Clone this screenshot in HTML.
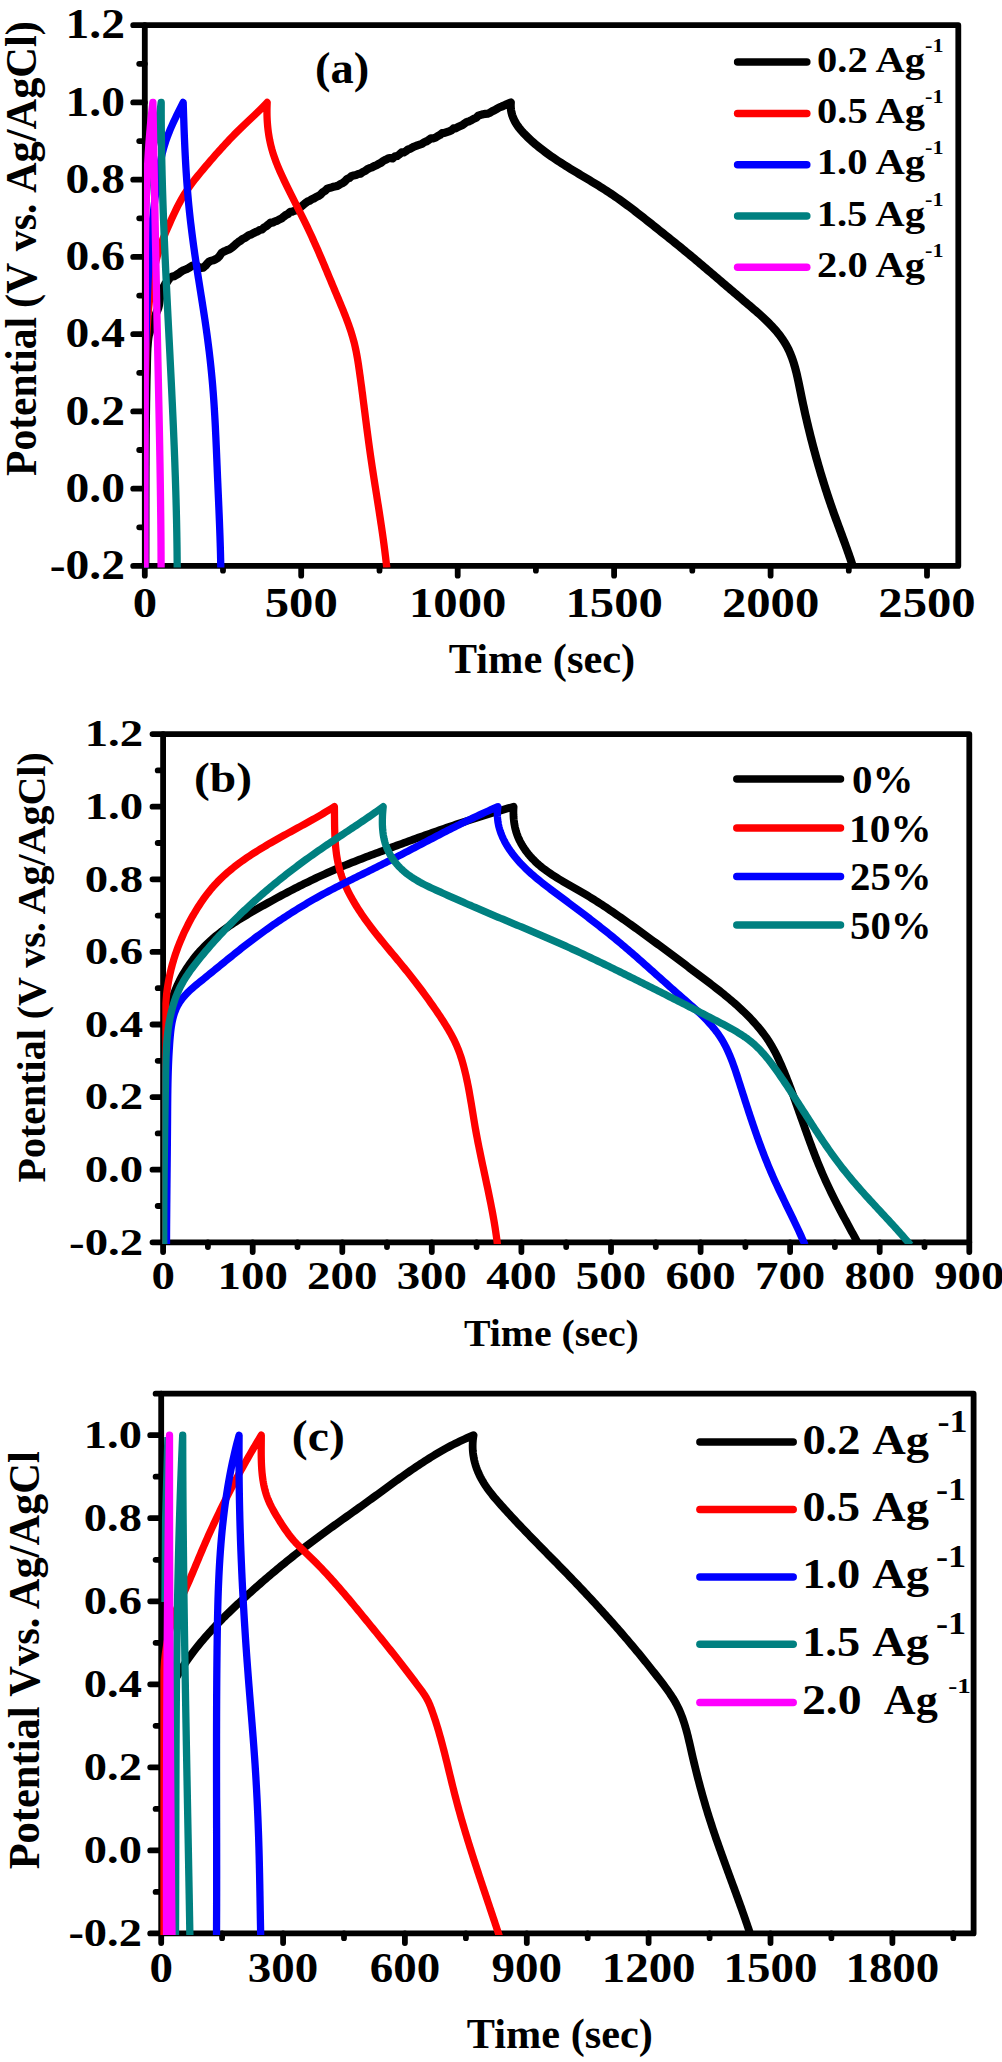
<!DOCTYPE html>
<html lang="en"><head><meta charset="utf-8"><title>Galvanostatic charge-discharge curves</title>
<style>html,body{margin:0;padding:0;background:#fff}svg{display:block}</style></head>
<body>
<svg width="1002" height="2062" viewBox="0 0 1002 2062" font-family="'Liberation Serif', 'Times New Roman', serif" font-weight="bold" fill="#000">
<rect width="1002" height="2062" fill="#fff"/>
<g stroke="#000" stroke-width="5.8" stroke-linecap="round" fill="none">
<rect x="144.8" y="25.2" width="813.5" height="540.7" stroke-linejoin="round"/>
<path d="M144.8,565.9v9.8M301.2,565.9v9.8M457.7,565.9v9.8M614.1,565.9v9.8M770.6,565.9v9.8M927.0,565.9v9.8M223.0,565.9v4.8M379.5,565.9v4.8M535.9,565.9v4.8M692.3,565.9v4.8M848.8,565.9v4.8M144.8,565.9h-11.6M144.8,488.7h-11.6M144.8,411.4h-11.6M144.8,334.2h-11.6M144.8,256.9h-11.6M144.8,179.7h-11.6M144.8,102.4h-11.6M144.8,25.2h-11.6M144.8,527.3h-5.6M144.8,450.0h-5.6M144.8,372.8h-5.6M144.8,295.6h-5.6M144.8,218.3h-5.6M144.8,141.1h-5.6M144.8,63.8h-5.6"/>
</g>
<clipPath id="ca"><rect x="144.0" y="25.2" width="814.3" height="542.3"/></clipPath>
<g clip-path="url(#ca)" fill="none" stroke-width="7.3" stroke-linejoin="round" stroke-linecap="butt">
<path stroke="#000000" stroke-width="8.2" d="M145.30,568.00 L145.31,565.32 L145.31,562.68 L145.32,559.95 L145.33,558.00 L145.33,556.08 L145.34,553.66 L145.34,551.48 L145.35,547.46 L145.35,544.41 L145.35,541.88 L145.36,539.68 L145.36,537.34 L145.37,535.67 L145.37,533.23 L145.37,530.52 L145.37,528.75 L145.38,526.06 L145.38,523.42 L145.38,520.81 L145.39,517.88 L145.39,515.94 L145.39,513.52 L145.40,510.98 L145.40,508.65 L145.40,504.96 L145.41,502.43 L145.41,500.38 L145.41,497.69 L145.42,495.58 L145.42,493.46 L145.43,489.40 L145.44,487.06 L145.44,484.11 L145.45,480.61 L145.46,479.39 L145.47,476.74 L145.47,474.43 L145.48,472.16 L145.49,469.54 L145.50,466.71 L145.52,464.96 L145.53,463.21 L145.54,460.76 L145.56,458.73 L145.57,455.54 L145.59,452.33 L145.60,449.98 L145.62,447.25 L145.64,444.73 L145.66,442.27 L145.68,439.61 L145.70,435.82 L145.72,433.69 L145.75,431.70 L145.77,428.42 L145.80,426.97 L145.83,423.77 L145.85,421.37 L145.88,418.70 L145.92,415.78 L145.95,413.97 L145.98,411.63 L146.02,409.07 L146.06,406.74 L146.09,404.07 L146.13,400.83 L146.18,399.88 L146.22,397.08 L146.26,394.58 L146.31,391.89 L146.36,389.30 L146.40,387.27 L146.45,384.45 L146.51,381.65 L146.56,379.25 L146.61,377.05 L146.67,374.99 L146.73,373.65 L146.79,370.56 L146.85,367.45 L146.91,364.27 L146.97,360.92 L147.04,358.80 L147.11,355.91 L147.19,353.45 L147.29,351.10 L147.42,348.09 L147.58,346.40 L147.79,343.61 L148.05,340.52 L148.36,337.93 L148.74,335.73 L149.19,334.11 L149.73,332.49 L150.35,329.96 L151.07,327.21 L151.89,324.46 L152.78,322.39 L153.70,319.87 L154.64,317.49 L155.55,315.21 L156.41,312.73 L157.19,310.75 L157.86,309.29 L158.43,307.46 L158.94,305.32 L159.43,301.85 L159.93,298.13 L160.49,294.76 L161.13,291.93 L161.91,289.47 L162.86,287.83 L164.01,286.38 L165.39,283.59 L166.97,282.21 L168.70,279.57 L170.55,277.40 L172.46,276.52 L174.43,276.15 L176.43,274.83 L178.48,273.64 L180.58,272.02 L182.73,270.58 L184.94,269.75 L187.21,268.90 L189.54,267.42 L191.92,265.88 L194.32,264.98 L196.71,265.50 L199.04,267.21 L201.24,267.82 L203.27,267.60 L205.20,265.97 L207.11,263.74 L209.08,261.75 L211.20,260.68 L213.41,260.28 L215.59,259.24 L217.67,258.00 L219.70,255.83 L221.74,252.76 L223.78,251.61 L225.83,250.74 L227.89,249.79 L229.96,249.06 L232.04,247.48 L234.13,245.79 L236.23,243.77 L238.34,242.07 L240.45,240.71 L242.57,238.98 L244.70,238.08 L246.83,236.60 L248.97,235.10 L251.11,234.47 L253.26,233.19 L255.41,232.18 L257.57,231.36 L259.73,229.99 L261.90,229.59 L264.07,227.51 L266.24,226.26 L268.41,224.52 L270.59,222.61 L272.76,222.57 L274.94,221.40 L277.12,220.77 L279.29,219.52 L281.47,218.58 L283.65,216.74 L285.82,214.99 L287.99,213.99 L290.17,211.82 L292.33,211.56 L294.50,210.76 L296.67,210.05 L298.84,208.99 L301.00,206.65 L303.17,205.01 L305.33,203.13 L307.50,201.61 L309.67,200.65 L311.83,199.30 L314.00,198.39 L316.18,197.09 L318.35,196.11 L320.53,194.59 L322.71,192.26 L324.89,191.00 L327.08,188.83 L329.28,187.93 L331.47,187.54 L333.68,186.69 L335.88,186.25 L338.10,185.68 L340.32,184.18 L342.55,183.03 L344.78,181.50 L347.02,179.01 L349.26,178.08 L351.51,176.14 L353.76,175.42 L356.02,174.97 L358.28,174.03 L360.54,173.64 L362.81,171.94 L365.08,171.01 L367.36,169.23 L369.63,168.11 L371.91,167.41 L374.19,166.14 L376.47,165.23 L378.75,163.90 L381.04,162.74 L383.32,160.85 L385.60,159.80 L387.89,158.59 L390.17,158.07 L392.45,158.43 L394.73,156.61 L397.00,156.10 L399.28,154.51 L401.55,152.47 L403.82,152.41 L406.09,151.07 L408.36,149.30 L410.62,148.53 L412.88,147.15 L415.15,146.28 L417.41,145.40 L419.66,144.66 L421.92,143.92 L424.18,142.28 L426.43,141.41 L428.69,140.01 L430.94,138.35 L433.20,138.44 L435.45,137.69 L437.71,136.18 L439.96,134.98 L442.22,133.12 L444.47,132.87 L446.73,132.11 L448.99,131.38 L451.24,130.51 L453.50,128.44 L455.76,128.36 L458.02,126.99 L460.29,125.99 L462.55,124.98 L464.82,123.20 L467.09,121.85 L469.36,121.20 L471.63,120.01 L473.91,118.70 L476.19,117.74 L478.47,115.64 L480.75,114.88 L483.04,114.23 L485.33,113.90 L487.63,113.68 L489.93,112.72 L492.23,111.31 L494.53,110.19 L496.84,108.86 L499.16,107.55 L501.48,106.64 L503.80,105.64 L506.13,104.51 L508.46,103.44 L510.80,102.40 L510.67,105.09 L510.76,107.70 L511.05,110.23 L511.53,112.69 L512.18,115.06 L513.01,117.37 L513.98,119.61 L515.10,121.79 L516.35,123.90 L517.72,125.96 L519.19,127.96 L520.75,129.92 L522.39,131.82 L524.10,133.68 L525.87,135.49 L527.68,137.27 L529.53,139.02 L531.39,140.73 L533.28,142.40 L535.20,144.05 L537.13,145.67 L539.09,147.26 L541.06,148.83 L543.06,150.37 L545.07,151.88 L547.10,153.38 L549.14,154.85 L551.20,156.30 L553.28,157.73 L555.36,159.14 L557.46,160.54 L559.57,161.92 L561.69,163.29 L563.82,164.65 L565.95,165.99 L568.10,167.32 L570.25,168.65 L572.40,169.96 L574.56,171.27 L576.73,172.58 L578.89,173.88 L581.06,175.17 L583.23,176.47 L585.40,177.76 L587.57,179.06 L589.73,180.36 L591.89,181.66 L594.05,182.97 L596.20,184.28 L598.35,185.60 L600.49,186.93 L602.62,188.27 L604.74,189.61 L606.86,190.98 L608.96,192.35 L611.05,193.74 L613.13,195.14 L615.20,196.56 L617.25,197.99 L619.30,199.44 L621.34,200.89 L623.37,202.36 L625.39,203.84 L627.41,205.33 L629.41,206.83 L631.41,208.34 L633.41,209.86 L635.40,211.38 L637.39,212.92 L639.37,214.46 L641.35,216.00 L643.33,217.55 L645.30,219.11 L647.28,220.67 L649.25,222.24 L651.22,223.80 L653.20,225.37 L655.17,226.95 L657.15,228.52 L659.13,230.10 L661.11,231.67 L663.08,233.25 L665.06,234.83 L667.04,236.41 L669.01,237.99 L670.99,239.58 L672.95,241.16 L674.92,242.75 L676.88,244.34 L678.84,245.93 L680.80,247.53 L682.74,249.12 L684.69,250.72 L686.63,252.32 L688.56,253.92 L690.49,255.52 L692.42,257.12 L694.34,258.73 L696.26,260.34 L698.18,261.95 L700.10,263.56 L702.01,265.17 L703.92,266.78 L705.83,268.40 L707.74,270.02 L709.65,271.63 L711.55,273.25 L713.46,274.88 L715.36,276.50 L717.27,278.12 L719.17,279.75 L721.08,281.38 L722.99,283.01 L724.90,284.64 L726.81,286.27 L728.72,287.90 L730.63,289.54 L732.55,291.17 L734.47,292.81 L736.39,294.45 L738.32,296.09 L740.24,297.73 L742.18,299.37 L744.11,301.01 L746.05,302.66 L748.00,304.30 L749.94,305.95 L751.89,307.61 L753.83,309.27 L755.76,310.93 L757.68,312.61 L759.59,314.30 L761.48,316.00 L763.35,317.72 L765.19,319.45 L767.01,321.21 L768.81,322.98 L770.57,324.77 L772.29,326.59 L773.98,328.43 L775.62,330.30 L777.22,332.20 L778.77,334.13 L780.28,336.09 L781.72,338.09 L783.12,340.12 L784.45,342.18 L785.72,344.29 L786.92,346.43 L788.06,348.62 L789.13,350.85 L790.13,353.12 L791.07,355.43 L791.96,357.76 L792.79,360.13 L793.58,362.53 L794.32,364.95 L795.02,367.39 L795.68,369.85 L796.31,372.32 L796.91,374.81 L797.49,377.32 L798.04,379.82 L798.58,382.34 L799.10,384.85 L799.61,387.37 L800.12,389.88 L800.63,392.38 L801.13,394.88 L801.64,397.36 L802.16,399.84 L802.68,402.30 L803.20,404.76 L803.74,407.22 L804.27,409.66 L804.81,412.11 L805.36,414.54 L805.92,416.98 L806.48,419.41 L807.04,421.85 L807.62,424.28 L808.20,426.71 L808.79,429.14 L809.39,431.57 L809.99,434.01 L810.60,436.44 L811.22,438.87 L811.84,441.30 L812.48,443.73 L813.11,446.16 L813.76,448.59 L814.41,451.01 L815.07,453.44 L815.74,455.86 L816.42,458.29 L817.10,460.71 L817.79,463.13 L818.49,465.55 L819.19,467.97 L819.90,470.39 L820.62,472.80 L821.35,475.22 L822.08,477.63 L822.82,480.04 L823.57,482.44 L824.32,484.85 L825.08,487.25 L825.85,489.65 L826.63,492.05 L827.41,494.45 L828.20,496.84 L829.00,499.23 L829.81,501.62 L830.62,504.00 L831.44,506.38 L832.27,508.76 L833.10,511.14 L833.94,513.51 L834.79,515.88 L835.65,518.24 L836.51,520.61 L837.37,522.97 L838.24,525.33 L839.11,527.69 L839.98,530.04 L840.85,532.40 L841.73,534.76 L842.60,537.12 L843.47,539.48 L844.33,541.84 L845.19,544.20 L846.05,546.56 L846.90,548.93 L847.75,551.30 L848.58,553.67 L849.41,556.05 L850.23,558.43 L851.04,560.81 L851.84,563.20 L852.63,565.60 L853.40,568.00"/>
<path stroke="#ff0000" d="M144.70,568.00 L144.70,565.48 L144.71,562.95 L144.71,560.43 L144.72,557.91 L144.72,555.39 L144.72,552.86 L144.72,550.34 L144.73,547.82 L144.73,545.30 L144.73,542.77 L144.73,540.25 L144.73,537.73 L144.73,535.21 L144.73,532.68 L144.74,530.16 L144.74,527.64 L144.74,525.12 L144.74,522.59 L144.74,520.07 L144.74,517.55 L144.74,515.03 L144.74,512.50 L144.74,509.98 L144.74,507.46 L144.75,504.94 L144.75,502.42 L144.75,499.89 L144.75,497.37 L144.75,494.85 L144.75,492.33 L144.76,489.81 L144.76,487.28 L144.76,484.76 L144.77,482.24 L144.77,479.72 L144.78,477.20 L144.78,474.67 L144.78,472.15 L144.79,469.63 L144.80,467.11 L144.80,464.59 L144.81,462.06 L144.82,459.54 L144.83,457.02 L144.83,454.50 L144.84,451.98 L144.85,449.45 L144.86,446.93 L144.88,444.41 L144.89,441.89 L144.90,439.37 L144.91,436.84 L144.93,434.32 L144.94,431.80 L144.96,429.28 L144.98,426.76 L144.99,424.23 L145.01,421.71 L145.03,419.19 L145.05,416.67 L145.07,414.15 L145.09,411.62 L145.12,409.10 L145.14,406.58 L145.17,404.06 L145.19,401.53 L145.22,399.01 L145.25,396.49 L145.28,393.97 L145.31,391.44 L145.34,388.92 L145.38,386.40 L145.41,383.88 L145.45,381.35 L145.48,378.83 L145.52,376.31 L145.56,373.79 L145.61,371.26 L145.66,368.74 L145.71,366.22 L145.76,363.70 L145.82,361.17 L145.88,358.65 L145.95,356.13 L146.02,353.61 L146.10,351.09 L146.19,348.57 L146.28,346.05 L146.38,343.53 L146.48,341.01 L146.59,338.49 L146.71,335.97 L146.84,333.45 L146.98,330.93 L147.13,328.42 L147.28,325.90 L147.45,323.39 L147.62,320.87 L147.81,318.36 L148.00,315.84 L148.21,313.33 L148.43,310.82 L148.66,308.31 L148.91,305.79 L149.16,303.28 L149.43,300.78 L149.71,298.27 L150.01,295.76 L150.32,293.25 L150.65,290.75 L150.99,288.25 L151.34,285.74 L151.72,283.24 L152.11,280.74 L152.52,278.25 L152.95,275.76 L153.41,273.28 L153.88,270.80 L154.39,268.32 L154.92,265.86 L155.47,263.40 L156.06,260.95 L156.67,258.51 L157.32,256.08 L158.00,253.65 L158.71,251.24 L159.46,248.85 L160.24,246.46 L161.06,244.09 L161.92,241.73 L162.82,239.38 L163.75,237.05 L164.72,234.73 L165.71,232.41 L166.71,230.10 L167.72,227.79 L168.73,225.48 L169.75,223.17 L170.78,220.86 L171.81,218.56 L172.86,216.27 L173.93,213.98 L175.01,211.70 L176.11,209.43 L177.23,207.17 L178.38,204.92 L179.55,202.70 L180.75,200.49 L181.99,198.30 L183.26,196.13 L184.57,193.99 L185.93,191.87 L187.32,189.77 L188.75,187.70 L190.21,185.65 L191.70,183.62 L193.22,181.60 L194.76,179.60 L196.33,177.62 L197.91,175.65 L199.51,173.69 L201.12,171.74 L202.74,169.80 L204.37,167.86 L206.00,165.93 L207.64,164.01 L209.28,162.09 L210.93,160.18 L212.59,158.27 L214.25,156.37 L215.91,154.47 L217.58,152.59 L219.26,150.71 L220.95,148.83 L222.64,146.97 L224.35,145.11 L226.06,143.26 L227.78,141.42 L229.51,139.59 L231.24,137.77 L232.99,135.96 L234.75,134.16 L236.52,132.36 L238.30,130.58 L240.10,128.81 L241.90,127.05 L243.72,125.30 L245.55,123.56 L247.39,121.84 L249.24,120.12 L251.09,118.40 L252.94,116.68 L254.79,114.95 L256.62,113.22 L258.44,111.47 L260.25,109.70 L262.03,107.92 L263.78,106.11 L265.51,104.27 L267.20,102.40 L267.09,104.92 L267.01,107.45 L266.97,109.97 L266.97,112.50 L267.00,115.03 L267.08,117.55 L267.20,120.08 L267.36,122.60 L267.56,125.11 L267.80,127.62 L268.08,130.12 L268.41,132.62 L268.79,135.11 L269.21,137.58 L269.67,140.05 L270.19,142.51 L270.75,144.95 L271.36,147.38 L272.01,149.80 L272.72,152.20 L273.48,154.59 L274.27,156.96 L275.11,159.32 L275.99,161.67 L276.90,164.00 L277.84,166.33 L278.81,168.65 L279.81,170.95 L280.83,173.25 L281.87,175.54 L282.92,177.83 L283.99,180.11 L285.07,182.38 L286.16,184.65 L287.26,186.92 L288.37,189.18 L289.48,191.44 L290.61,193.69 L291.73,195.95 L292.86,198.20 L293.99,200.45 L295.13,202.69 L296.26,204.94 L297.40,207.19 L298.53,209.44 L299.67,211.68 L300.80,213.93 L301.92,216.18 L303.05,218.44 L304.16,220.69 L305.27,222.95 L306.37,225.21 L307.47,227.47 L308.55,229.74 L309.62,232.01 L310.69,234.29 L311.74,236.57 L312.79,238.85 L313.82,241.14 L314.85,243.43 L315.87,245.73 L316.89,248.03 L317.90,250.33 L318.90,252.64 L319.89,254.94 L320.88,257.25 L321.87,259.56 L322.85,261.88 L323.83,264.19 L324.81,266.51 L325.78,268.83 L326.76,271.15 L327.73,273.47 L328.70,275.80 L329.66,278.12 L330.63,280.45 L331.60,282.77 L332.57,285.10 L333.54,287.42 L334.52,289.75 L335.49,292.07 L336.47,294.40 L337.45,296.73 L338.44,299.05 L339.41,301.38 L340.39,303.71 L341.36,306.04 L342.32,308.37 L343.27,310.70 L344.21,313.04 L345.13,315.39 L346.04,317.73 L346.94,320.08 L347.81,322.44 L348.66,324.80 L349.49,327.17 L350.30,329.55 L351.07,331.93 L351.82,334.32 L352.54,336.72 L353.23,339.13 L353.88,341.54 L354.49,343.97 L355.07,346.41 L355.61,348.85 L356.12,351.31 L356.60,353.77 L357.05,356.24 L357.48,358.71 L357.89,361.19 L358.28,363.67 L358.66,366.16 L359.02,368.65 L359.38,371.14 L359.73,373.64 L360.08,376.13 L360.42,378.62 L360.76,381.12 L361.09,383.61 L361.43,386.11 L361.76,388.60 L362.08,391.10 L362.41,393.60 L362.73,396.09 L363.05,398.59 L363.37,401.09 L363.69,403.59 L364.01,406.08 L364.32,408.58 L364.64,411.08 L364.96,413.57 L365.27,416.07 L365.59,418.57 L365.91,421.07 L366.23,423.56 L366.55,426.06 L366.87,428.55 L367.19,431.05 L367.52,433.55 L367.85,436.04 L368.18,438.53 L368.51,441.03 L368.85,443.52 L369.19,446.02 L369.53,448.51 L369.88,451.00 L370.23,453.49 L370.59,455.98 L370.95,458.47 L371.32,460.96 L371.69,463.45 L372.06,465.93 L372.43,468.42 L372.81,470.91 L373.19,473.39 L373.58,475.88 L373.96,478.36 L374.35,480.85 L374.74,483.33 L375.13,485.82 L375.52,488.30 L375.91,490.79 L376.31,493.27 L376.70,495.76 L377.09,498.24 L377.48,500.72 L377.87,503.21 L378.26,505.69 L378.65,508.18 L379.04,510.66 L379.42,513.15 L379.80,515.63 L380.18,518.12 L380.56,520.61 L380.93,523.09 L381.30,525.58 L381.67,528.07 L382.03,530.56 L382.39,533.05 L382.75,535.54 L383.10,538.03 L383.44,540.52 L383.78,543.01 L384.11,545.51 L384.44,548.00 L384.76,550.50 L385.07,552.99 L385.38,555.49 L385.68,557.99 L385.97,560.49 L386.25,562.99 L386.53,565.50 L386.80,568.00"/>
<path stroke="#0000ff" d="M144.70,568.00 L144.71,565.48 L144.73,562.97 L144.74,560.45 L144.75,557.93 L144.76,555.41 L144.77,552.90 L144.78,550.38 L144.79,547.86 L144.79,545.35 L144.80,542.83 L144.80,540.31 L144.81,537.79 L144.81,535.27 L144.82,532.76 L144.82,530.24 L144.82,527.72 L144.82,525.20 L144.82,522.69 L144.82,520.17 L144.82,517.65 L144.82,515.13 L144.82,512.61 L144.82,510.09 L144.82,507.58 L144.82,505.06 L144.82,502.54 L144.82,500.02 L144.81,497.50 L144.81,494.98 L144.81,492.46 L144.81,489.95 L144.81,487.43 L144.81,484.91 L144.80,482.39 L144.80,479.87 L144.80,477.35 L144.80,474.83 L144.80,472.32 L144.80,469.80 L144.80,467.28 L144.80,464.76 L144.80,462.24 L144.80,459.72 L144.80,457.20 L144.80,454.68 L144.80,452.17 L144.80,449.65 L144.81,447.13 L144.81,444.61 L144.82,442.09 L144.82,439.57 L144.83,437.05 L144.83,434.53 L144.84,432.01 L144.85,429.50 L144.86,426.98 L144.87,424.46 L144.88,421.94 L144.89,419.42 L144.90,416.90 L144.92,414.38 L144.93,411.87 L144.95,409.35 L144.97,406.83 L144.99,404.31 L145.01,401.79 L145.03,399.27 L145.05,396.75 L145.07,394.24 L145.10,391.72 L145.13,389.20 L145.15,386.68 L145.18,384.16 L145.21,381.65 L145.25,379.13 L145.28,376.61 L145.32,374.09 L145.35,371.57 L145.39,369.06 L145.43,366.54 L145.48,364.02 L145.52,361.50 L145.57,358.99 L145.61,356.47 L145.66,353.95 L145.72,351.43 L145.77,348.92 L145.83,346.40 L145.88,343.88 L145.94,341.37 L146.01,338.85 L146.07,336.33 L146.14,333.82 L146.21,331.30 L146.28,328.78 L146.35,326.27 L146.43,323.75 L146.50,321.23 L146.58,318.72 L146.67,316.20 L146.75,313.69 L146.84,311.17 L146.93,308.65 L147.02,306.14 L147.12,303.62 L147.22,301.11 L147.32,298.59 L147.42,296.08 L147.53,293.56 L147.64,291.05 L147.75,288.53 L147.87,286.02 L147.98,283.50 L148.10,280.99 L148.23,278.48 L148.36,275.96 L148.48,273.45 L148.62,270.93 L148.75,268.42 L148.89,265.91 L149.04,263.39 L149.18,260.88 L149.33,258.37 L149.49,255.85 L149.65,253.34 L149.81,250.83 L149.99,248.32 L150.17,245.81 L150.35,243.30 L150.55,240.79 L150.75,238.28 L150.96,235.77 L151.18,233.26 L151.41,230.75 L151.65,228.25 L151.90,225.74 L152.16,223.24 L152.42,220.73 L152.70,218.23 L152.98,215.72 L153.26,213.22 L153.55,210.71 L153.85,208.21 L154.15,205.71 L154.45,203.20 L154.76,200.70 L155.06,198.19 L155.37,195.68 L155.68,193.18 L155.99,190.67 L156.31,188.16 L156.63,185.66 L156.96,183.16 L157.30,180.65 L157.65,178.16 L158.02,175.66 L158.40,173.17 L158.80,170.68 L159.22,168.20 L159.66,165.73 L160.13,163.26 L160.62,160.80 L161.14,158.34 L161.68,155.90 L162.26,153.46 L162.88,151.04 L163.53,148.62 L164.21,146.21 L164.94,143.82 L165.71,141.44 L166.52,139.07 L167.37,136.71 L168.26,134.37 L169.19,132.04 L170.15,129.71 L171.14,127.40 L172.15,125.10 L173.20,122.80 L174.26,120.51 L175.35,118.23 L176.45,115.96 L177.57,113.69 L178.69,111.43 L179.82,109.17 L180.95,106.91 L182.08,104.65 L183.20,102.40 L183.28,104.91 L183.35,107.42 L183.43,109.94 L183.51,112.45 L183.59,114.96 L183.68,117.47 L183.76,119.99 L183.85,122.50 L183.94,125.01 L184.03,127.52 L184.12,130.04 L184.22,132.55 L184.31,135.06 L184.41,137.58 L184.52,140.09 L184.63,142.60 L184.74,145.11 L184.85,147.63 L184.97,150.14 L185.09,152.65 L185.21,155.16 L185.34,157.67 L185.48,160.19 L185.62,162.70 L185.76,165.21 L185.91,167.72 L186.06,170.23 L186.22,172.74 L186.38,175.24 L186.55,177.75 L186.72,180.26 L186.90,182.77 L187.09,185.28 L187.28,187.78 L187.48,190.29 L187.69,192.79 L187.90,195.30 L188.12,197.80 L188.34,200.30 L188.57,202.81 L188.81,205.31 L189.06,207.81 L189.32,210.31 L189.58,212.81 L189.85,215.30 L190.12,217.80 L190.40,220.30 L190.69,222.80 L190.99,225.29 L191.29,227.79 L191.60,230.28 L191.91,232.77 L192.23,235.27 L192.55,237.76 L192.88,240.25 L193.21,242.74 L193.55,245.23 L193.90,247.72 L194.25,250.21 L194.60,252.70 L194.95,255.19 L195.31,257.68 L195.68,260.17 L196.05,262.65 L196.42,265.14 L196.79,267.63 L197.17,270.11 L197.55,272.60 L197.93,275.08 L198.32,277.57 L198.71,280.05 L199.10,282.54 L199.49,285.02 L199.88,287.50 L200.27,289.99 L200.67,292.47 L201.06,294.96 L201.45,297.44 L201.84,299.92 L202.24,302.41 L202.62,304.89 L203.01,307.38 L203.40,309.86 L203.78,312.35 L204.16,314.83 L204.53,317.32 L204.91,319.80 L205.27,322.29 L205.64,324.78 L205.99,327.26 L206.35,329.75 L206.69,332.24 L207.04,334.73 L207.37,337.22 L207.70,339.71 L208.02,342.20 L208.34,344.70 L208.65,347.19 L208.96,349.68 L209.26,352.18 L209.55,354.67 L209.84,357.17 L210.12,359.66 L210.40,362.16 L210.66,364.66 L210.93,367.15 L211.18,369.65 L211.43,372.15 L211.67,374.65 L211.91,377.15 L212.14,379.65 L212.36,382.16 L212.58,384.66 L212.79,387.16 L212.99,389.67 L213.19,392.17 L213.38,394.68 L213.56,397.18 L213.74,399.69 L213.91,402.20 L214.08,404.70 L214.24,407.21 L214.40,409.72 L214.55,412.23 L214.70,414.74 L214.84,417.25 L214.98,419.76 L215.12,422.27 L215.25,424.78 L215.38,427.29 L215.50,429.81 L215.62,432.32 L215.74,434.83 L215.86,437.34 L215.97,439.86 L216.08,442.37 L216.19,444.88 L216.30,447.40 L216.41,449.91 L216.51,452.42 L216.62,454.94 L216.72,457.45 L216.83,459.96 L216.93,462.48 L217.03,464.99 L217.14,467.50 L217.24,470.02 L217.34,472.53 L217.45,475.04 L217.55,477.56 L217.66,480.07 L217.77,482.58 L217.88,485.09 L217.98,487.61 L218.09,490.12 L218.20,492.63 L218.31,495.14 L218.42,497.66 L218.53,500.17 L218.64,502.68 L218.74,505.19 L218.85,507.70 L218.96,510.21 L219.06,512.73 L219.17,515.24 L219.27,517.75 L219.37,520.26 L219.47,522.77 L219.57,525.28 L219.66,527.80 L219.76,530.31 L219.85,532.82 L219.94,535.33 L220.02,537.84 L220.10,540.36 L220.19,542.87 L220.26,545.38 L220.34,547.89 L220.41,550.41 L220.48,552.92 L220.54,555.43 L220.60,557.95 L220.66,560.46 L220.71,562.97 L220.76,565.49 L220.80,568.00"/>
<path stroke="#008080" d="M144.70,568.00 L144.69,565.48 L144.69,562.95 L144.68,560.43 L144.68,557.90 L144.67,555.38 L144.67,552.85 L144.66,550.33 L144.66,547.80 L144.66,545.28 L144.65,542.76 L144.65,540.23 L144.65,537.71 L144.65,535.18 L144.65,532.66 L144.65,530.13 L144.64,527.61 L144.64,525.09 L144.64,522.56 L144.65,520.04 L144.65,517.51 L144.65,514.99 L144.65,512.47 L144.65,509.94 L144.65,507.42 L144.66,504.89 L144.66,502.37 L144.66,499.85 L144.66,497.32 L144.67,494.80 L144.67,492.28 L144.68,489.75 L144.68,487.23 L144.68,484.70 L144.69,482.18 L144.69,479.66 L144.70,477.13 L144.70,474.61 L144.71,472.09 L144.71,469.56 L144.72,467.04 L144.72,464.51 L144.73,461.99 L144.73,459.47 L144.74,456.94 L144.75,454.42 L144.75,451.90 L144.76,449.37 L144.76,446.85 L144.77,444.33 L144.78,441.80 L144.78,439.28 L144.79,436.75 L144.80,434.23 L144.80,431.71 L144.81,429.18 L144.81,426.66 L144.82,424.14 L144.83,421.61 L144.83,419.09 L144.84,416.57 L144.84,414.04 L144.85,411.52 L144.86,409.00 L144.86,406.47 L144.87,403.95 L144.87,401.42 L144.88,398.90 L144.88,396.38 L144.89,393.85 L144.89,391.33 L144.90,388.81 L144.90,386.28 L144.91,383.76 L144.91,381.23 L144.92,378.71 L144.92,376.19 L144.92,373.66 L144.93,371.14 L144.93,368.62 L144.93,366.09 L144.94,363.57 L144.94,361.04 L144.94,358.52 L144.94,356.00 L144.94,353.47 L144.95,350.95 L144.95,348.42 L144.95,345.90 L144.95,343.37 L144.95,340.85 L144.95,338.33 L144.95,335.80 L144.95,333.28 L144.94,330.75 L144.94,328.23 L144.94,325.71 L144.94,323.18 L144.93,320.66 L144.93,318.13 L144.93,315.61 L144.92,313.08 L144.92,310.56 L144.91,308.03 L144.91,305.51 L144.90,302.98 L144.89,300.46 L144.89,297.93 L144.88,295.41 L144.87,292.89 L144.86,290.36 L144.86,287.84 L144.85,285.31 L144.84,282.79 L144.84,280.26 L144.83,277.74 L144.83,275.21 L144.82,272.69 L144.82,270.16 L144.82,267.64 L144.82,265.11 L144.82,262.59 L144.83,260.06 L144.84,257.54 L144.84,255.01 L144.86,252.48 L144.87,249.96 L144.89,247.43 L144.91,244.91 L144.93,242.39 L144.96,239.86 L144.99,237.34 L145.02,234.81 L145.06,232.29 L145.10,229.76 L145.15,227.24 L145.20,224.71 L145.26,222.19 L145.33,219.67 L145.41,217.14 L145.49,214.62 L145.58,212.10 L145.69,209.58 L145.80,207.06 L145.93,204.55 L146.07,202.03 L146.22,199.51 L146.38,197.00 L146.56,194.49 L146.75,191.98 L146.96,189.47 L147.18,186.96 L147.42,184.45 L147.68,181.95 L147.96,179.45 L148.25,176.95 L148.56,174.45 L148.90,171.96 L149.25,169.46 L149.62,166.97 L150.02,164.49 L150.43,162.00 L150.86,159.52 L151.31,157.03 L151.77,154.55 L152.24,152.07 L152.72,149.60 L153.21,147.12 L153.70,144.64 L154.20,142.16 L154.70,139.69 L155.20,137.21 L155.70,134.73 L156.19,132.26 L156.68,129.78 L157.17,127.30 L157.64,124.82 L158.10,122.34 L158.55,119.85 L158.99,117.37 L159.41,114.88 L159.81,112.39 L160.19,109.90 L160.55,107.40 L160.89,104.90 L161.20,102.40 L161.20,104.92 L161.20,107.44 L161.20,109.96 L161.20,112.48 L161.21,115.00 L161.22,117.52 L161.23,120.04 L161.25,122.55 L161.27,125.07 L161.29,127.59 L161.31,130.11 L161.34,132.63 L161.37,135.15 L161.40,137.67 L161.43,140.19 L161.47,142.70 L161.50,145.22 L161.54,147.74 L161.59,150.26 L161.63,152.78 L161.68,155.29 L161.73,157.81 L161.78,160.33 L161.83,162.85 L161.89,165.37 L161.95,167.88 L162.01,170.40 L162.07,172.92 L162.13,175.44 L162.20,177.95 L162.27,180.47 L162.34,182.99 L162.41,185.50 L162.48,188.02 L162.56,190.54 L162.64,193.05 L162.72,195.57 L162.80,198.09 L162.88,200.61 L162.96,203.12 L163.05,205.64 L163.14,208.16 L163.22,210.67 L163.31,213.19 L163.41,215.70 L163.50,218.22 L163.59,220.74 L163.69,223.25 L163.79,225.77 L163.89,228.29 L163.99,230.80 L164.09,233.32 L164.19,235.83 L164.30,238.35 L164.40,240.87 L164.51,243.38 L164.61,245.90 L164.72,248.41 L164.83,250.93 L164.94,253.45 L165.06,255.96 L165.17,258.48 L165.28,260.99 L165.40,263.51 L165.51,266.02 L165.63,268.54 L165.75,271.06 L165.86,273.57 L165.98,276.09 L166.10,278.60 L166.22,281.12 L166.34,283.63 L166.46,286.15 L166.59,288.66 L166.71,291.18 L166.83,293.69 L166.96,296.21 L167.08,298.73 L167.21,301.24 L167.33,303.76 L167.46,306.27 L167.58,308.79 L167.71,311.30 L167.84,313.82 L167.96,316.33 L168.09,318.85 L168.22,321.36 L168.34,323.88 L168.47,326.39 L168.60,328.91 L168.73,331.42 L168.86,333.94 L168.98,336.46 L169.11,338.97 L169.24,341.49 L169.37,344.00 L169.50,346.52 L169.62,349.03 L169.75,351.55 L169.88,354.06 L170.01,356.58 L170.13,359.09 L170.26,361.61 L170.38,364.12 L170.51,366.64 L170.64,369.16 L170.76,371.67 L170.89,374.19 L171.01,376.70 L171.14,379.22 L171.26,381.73 L171.38,384.25 L171.50,386.76 L171.63,389.28 L171.75,391.79 L171.87,394.31 L171.99,396.83 L172.11,399.34 L172.23,401.86 L172.35,404.37 L172.46,406.89 L172.58,409.40 L172.69,411.92 L172.81,414.44 L172.92,416.95 L173.04,419.47 L173.15,421.98 L173.26,424.50 L173.37,427.02 L173.48,429.53 L173.59,432.05 L173.70,434.56 L173.80,437.08 L173.91,439.60 L174.01,442.11 L174.11,444.63 L174.22,447.15 L174.32,449.66 L174.42,452.18 L174.51,454.70 L174.61,457.21 L174.71,459.73 L174.80,462.24 L174.89,464.76 L174.98,467.28 L175.07,469.80 L175.16,472.31 L175.25,474.83 L175.34,477.35 L175.42,479.86 L175.50,482.38 L175.58,484.90 L175.66,487.41 L175.74,489.93 L175.82,492.45 L175.89,494.97 L175.96,497.48 L176.04,500.00 L176.10,502.52 L176.17,505.04 L176.24,507.55 L176.30,510.07 L176.36,512.59 L176.42,515.11 L176.48,517.63 L176.54,520.14 L176.59,522.66 L176.64,525.18 L176.69,527.70 L176.74,530.22 L176.79,532.73 L176.83,535.25 L176.87,537.77 L176.91,540.29 L176.95,542.81 L176.99,545.33 L177.02,547.85 L177.05,550.37 L177.08,552.88 L177.10,555.40 L177.13,557.92 L177.15,560.44 L177.17,562.96 L177.19,565.48 L177.20,568.00"/>
<path stroke="#ff00ff" d="M145.00,568.00 L144.99,565.48 L144.99,562.96 L144.98,560.44 L144.98,557.92 L144.97,555.40 L144.97,552.89 L144.96,550.37 L144.96,547.85 L144.95,545.33 L144.95,542.81 L144.95,540.29 L144.95,537.77 L144.94,535.25 L144.94,532.74 L144.94,530.22 L144.94,527.70 L144.94,525.18 L144.94,522.66 L144.94,520.14 L144.94,517.63 L144.94,515.11 L144.94,512.59 L144.94,510.07 L144.94,507.55 L144.94,505.03 L144.94,502.52 L144.94,500.00 L144.94,497.48 L144.94,494.96 L144.95,492.44 L144.95,489.92 L144.95,487.41 L144.96,484.89 L144.96,482.37 L144.96,479.85 L144.96,477.33 L144.97,474.82 L144.97,472.30 L144.98,469.78 L144.98,467.26 L144.98,464.74 L144.99,462.22 L144.99,459.71 L145.00,457.19 L145.00,454.67 L145.01,452.15 L145.01,449.63 L145.02,447.12 L145.02,444.60 L145.03,442.08 L145.03,439.56 L145.04,437.04 L145.05,434.53 L145.05,432.01 L145.06,429.49 L145.06,426.97 L145.07,424.45 L145.07,421.94 L145.08,419.42 L145.09,416.90 L145.09,414.38 L145.10,411.86 L145.11,409.35 L145.11,406.83 L145.12,404.31 L145.12,401.79 L145.13,399.27 L145.14,396.76 L145.14,394.24 L145.15,391.72 L145.16,389.20 L145.16,386.68 L145.17,384.16 L145.17,381.65 L145.18,379.13 L145.19,376.61 L145.19,374.09 L145.20,371.57 L145.20,369.05 L145.21,366.54 L145.21,364.02 L145.22,361.50 L145.23,358.98 L145.23,356.46 L145.24,353.94 L145.24,351.43 L145.25,348.91 L145.25,346.39 L145.26,343.87 L145.26,341.35 L145.27,338.83 L145.27,336.31 L145.27,333.79 L145.28,331.28 L145.28,328.76 L145.29,326.24 L145.29,323.72 L145.29,321.20 L145.30,318.68 L145.30,316.16 L145.30,313.64 L145.31,311.12 L145.31,308.60 L145.31,306.09 L145.31,303.57 L145.31,301.05 L145.32,298.53 L145.32,296.01 L145.32,293.49 L145.32,290.97 L145.32,288.45 L145.32,285.93 L145.32,283.41 L145.33,280.89 L145.33,278.37 L145.33,275.85 L145.34,273.33 L145.34,270.81 L145.35,268.29 L145.36,265.77 L145.36,263.25 L145.37,260.73 L145.38,258.22 L145.40,255.70 L145.41,253.18 L145.42,250.66 L145.44,248.14 L145.46,245.62 L145.48,243.10 L145.50,240.58 L145.53,238.06 L145.55,235.54 L145.58,233.03 L145.62,230.51 L145.65,227.99 L145.69,225.47 L145.73,222.95 L145.77,220.44 L145.81,217.92 L145.86,215.40 L145.91,212.88 L145.97,210.37 L146.02,207.85 L146.08,205.33 L146.15,202.82 L146.22,200.30 L146.29,197.78 L146.36,195.27 L146.44,192.75 L146.53,190.24 L146.61,187.72 L146.70,185.21 L146.80,182.69 L146.90,180.18 L147.00,177.66 L147.11,175.15 L147.23,172.63 L147.35,170.12 L147.47,167.61 L147.60,165.09 L147.73,162.58 L147.87,160.07 L148.02,157.56 L148.17,155.05 L148.32,152.54 L148.49,150.02 L148.66,147.51 L148.83,145.00 L149.01,142.49 L149.20,139.98 L149.40,137.48 L149.60,134.97 L149.80,132.46 L150.02,129.95 L150.24,127.44 L150.47,124.94 L150.71,122.43 L150.96,119.93 L151.21,117.42 L151.47,114.92 L151.74,112.41 L152.02,109.91 L152.30,107.40 L152.60,104.90 L152.90,102.40 L152.95,104.92 L153.00,107.43 L153.04,109.95 L153.09,112.47 L153.14,114.98 L153.19,117.50 L153.24,120.02 L153.28,122.53 L153.33,125.05 L153.38,127.57 L153.43,130.08 L153.47,132.60 L153.52,135.12 L153.57,137.63 L153.61,140.15 L153.66,142.67 L153.71,145.18 L153.75,147.70 L153.80,150.22 L153.85,152.73 L153.89,155.25 L153.94,157.77 L153.99,160.28 L154.03,162.80 L154.08,165.32 L154.13,167.83 L154.17,170.35 L154.22,172.87 L154.27,175.38 L154.31,177.90 L154.36,180.42 L154.41,182.93 L154.45,185.45 L154.50,187.97 L154.54,190.49 L154.59,193.00 L154.64,195.52 L154.68,198.04 L154.73,200.55 L154.78,203.07 L154.82,205.59 L154.87,208.10 L154.92,210.62 L154.96,213.14 L155.01,215.65 L155.06,218.17 L155.10,220.69 L155.15,223.20 L155.20,225.72 L155.25,228.24 L155.29,230.75 L155.34,233.27 L155.39,235.79 L155.43,238.30 L155.48,240.82 L155.53,243.34 L155.58,245.85 L155.63,248.37 L155.67,250.89 L155.72,253.40 L155.77,255.92 L155.82,258.44 L155.87,260.95 L155.91,263.47 L155.96,265.99 L156.01,268.50 L156.06,271.02 L156.11,273.54 L156.16,276.05 L156.21,278.57 L156.26,281.09 L156.31,283.60 L156.36,286.12 L156.41,288.64 L156.46,291.16 L156.51,293.67 L156.56,296.19 L156.61,298.71 L156.66,301.22 L156.71,303.74 L156.76,306.26 L156.82,308.77 L156.87,311.29 L156.92,313.81 L156.97,316.32 L157.02,318.84 L157.08,321.36 L157.13,323.87 L157.18,326.39 L157.24,328.91 L157.29,331.42 L157.34,333.94 L157.40,336.46 L157.45,338.97 L157.50,341.49 L157.56,344.01 L157.61,346.52 L157.67,349.04 L157.72,351.56 L157.78,354.07 L157.83,356.59 L157.88,359.10 L157.94,361.62 L157.99,364.14 L158.05,366.65 L158.10,369.17 L158.16,371.69 L158.21,374.20 L158.27,376.72 L158.32,379.24 L158.37,381.75 L158.43,384.27 L158.48,386.79 L158.54,389.30 L158.59,391.82 L158.64,394.34 L158.70,396.85 L158.75,399.37 L158.80,401.89 L158.85,404.40 L158.91,406.92 L158.96,409.44 L159.01,411.95 L159.06,414.47 L159.11,416.99 L159.16,419.50 L159.21,422.02 L159.26,424.54 L159.31,427.05 L159.36,429.57 L159.41,432.09 L159.46,434.60 L159.51,437.12 L159.56,439.64 L159.60,442.15 L159.65,444.67 L159.70,447.19 L159.74,449.70 L159.79,452.22 L159.83,454.74 L159.88,457.25 L159.92,459.77 L159.96,462.29 L160.01,464.80 L160.05,467.32 L160.09,469.84 L160.13,472.35 L160.17,474.87 L160.21,477.39 L160.25,479.91 L160.29,482.42 L160.33,484.94 L160.36,487.46 L160.40,489.97 L160.44,492.49 L160.47,495.01 L160.51,497.52 L160.54,500.04 L160.57,502.56 L160.60,505.07 L160.63,507.59 L160.66,510.11 L160.69,512.62 L160.72,515.14 L160.75,517.66 L160.78,520.18 L160.80,522.69 L160.83,525.21 L160.85,527.73 L160.87,530.24 L160.90,532.76 L160.92,535.28 L160.94,537.79 L160.96,540.31 L160.98,542.83 L160.99,545.35 L161.01,547.86 L161.02,550.38 L161.04,552.90 L161.05,555.41 L161.06,557.93 L161.07,560.45 L161.08,562.97 L161.09,565.48 L161.10,568.00"/>
</g>
<g stroke-width="7.5" stroke-linecap="round">
<line x1="737.6" x2="806.8" y1="62.1" y2="62.1" stroke="#000000"/>
<line x1="737.6" x2="806.8" y1="113.4" y2="113.4" stroke="#ff0000"/>
<line x1="737.6" x2="806.8" y1="164.7" y2="164.7" stroke="#0000ff"/>
<line x1="737.6" x2="806.8" y1="215.99999999999997" y2="215.99999999999997" stroke="#008080"/>
<line x1="737.6" x2="806.8" y1="267.3" y2="267.3" stroke="#ff00ff"/>
</g>
<g stroke="#000" stroke-width="5.8" stroke-linecap="round" fill="none">
<rect x="163.1" y="734.1" width="806.2" height="508.2" stroke-linejoin="round"/>
<path d="M163.1,1242.3v9.8M252.7,1242.3v9.8M342.3,1242.3v9.8M431.8,1242.3v9.8M521.4,1242.3v9.8M611.0,1242.3v9.8M700.6,1242.3v9.8M790.1,1242.3v9.8M879.7,1242.3v9.8M969.3,1242.3v9.8M207.9,1242.3v4.8M297.5,1242.3v4.8M387.0,1242.3v4.8M476.6,1242.3v4.8M566.2,1242.3v4.8M655.8,1242.3v4.8M745.4,1242.3v4.8M834.9,1242.3v4.8M924.5,1242.3v4.8M163.1,1242.3h-10.6M163.1,1169.7h-10.6M163.1,1097.1h-10.6M163.1,1024.5h-10.6M163.1,951.9h-10.6M163.1,879.3h-10.6M163.1,806.7h-10.6M163.1,734.1h-10.6M163.1,1206.0h-5.4M163.1,1133.4h-5.4M163.1,1060.8h-5.4M163.1,988.2h-5.4M163.1,915.6h-5.4M163.1,843.0h-5.4M163.1,770.4h-5.4"/>
</g>
<clipPath id="cb"><rect x="162.3" y="734.1" width="807.0" height="509.8"/></clipPath>
<g clip-path="url(#cb)" fill="none" stroke-width="7.3" stroke-linejoin="round" stroke-linecap="butt">
<path stroke="#000000" stroke-width="7.8" d="M163.70,1245.00 L163.70,1242.49 L163.69,1239.99 L163.69,1237.48 L163.68,1234.97 L163.68,1232.46 L163.68,1229.95 L163.68,1227.44 L163.68,1224.93 L163.68,1222.42 L163.68,1219.91 L163.68,1217.39 L163.68,1214.88 L163.68,1212.37 L163.68,1209.86 L163.69,1207.34 L163.69,1204.83 L163.69,1202.32 L163.70,1199.80 L163.70,1197.29 L163.71,1194.77 L163.71,1192.26 L163.72,1189.75 L163.73,1187.23 L163.73,1184.72 L163.74,1182.20 L163.75,1179.69 L163.76,1177.17 L163.77,1174.66 L163.78,1172.15 L163.79,1169.63 L163.80,1167.12 L163.81,1164.61 L163.82,1162.09 L163.83,1159.58 L163.84,1157.07 L163.86,1154.55 L163.87,1152.04 L163.88,1149.53 L163.90,1147.02 L163.91,1144.51 L163.93,1142.00 L163.94,1139.49 L163.96,1136.98 L163.97,1134.47 L163.99,1131.96 L164.01,1129.45 L164.02,1126.94 L164.04,1124.44 L164.06,1121.93 L164.08,1119.42 L164.09,1116.92 L164.11,1114.41 L164.13,1111.91 L164.15,1109.41 L164.17,1106.91 L164.19,1104.40 L164.21,1101.90 L164.23,1099.40 L164.26,1096.90 L164.28,1094.40 L164.31,1091.90 L164.34,1089.39 L164.37,1086.89 L164.41,1084.38 L164.44,1081.88 L164.48,1079.37 L164.53,1076.86 L164.57,1074.35 L164.62,1071.84 L164.67,1069.33 L164.73,1066.81 L164.79,1064.29 L164.85,1061.77 L164.92,1059.25 L165.00,1056.72 L165.07,1054.19 L165.16,1051.66 L165.25,1049.12 L165.34,1046.58 L165.45,1044.05 L165.57,1041.51 L165.71,1038.97 L165.87,1036.43 L166.04,1033.90 L166.24,1031.37 L166.47,1028.85 L166.72,1026.33 L167.01,1023.82 L167.32,1021.32 L167.68,1018.82 L168.07,1016.34 L168.50,1013.86 L168.97,1011.40 L169.49,1008.95 L170.05,1006.52 L170.67,1004.10 L171.34,1001.69 L172.06,999.31 L172.82,996.94 L173.64,994.58 L174.51,992.24 L175.42,989.93 L176.38,987.63 L177.39,985.35 L178.45,983.09 L179.54,980.85 L180.69,978.63 L181.87,976.44 L183.10,974.26 L184.37,972.11 L185.68,969.99 L187.04,967.88 L188.43,965.81 L189.86,963.75 L191.33,961.73 L192.83,959.72 L194.38,957.75 L195.95,955.80 L197.57,953.88 L199.21,951.99 L200.90,950.13 L202.61,948.30 L204.36,946.50 L206.13,944.73 L207.94,942.99 L209.78,941.28 L211.65,939.60 L213.54,937.96 L215.47,936.35 L217.41,934.76 L219.39,933.21 L221.38,931.68 L223.40,930.18 L225.44,928.71 L227.49,927.25 L229.57,925.82 L231.66,924.42 L233.77,923.03 L235.89,921.66 L238.02,920.30 L240.17,918.97 L242.33,917.65 L244.49,916.34 L246.67,915.04 L248.85,913.76 L251.03,912.48 L253.22,911.22 L255.41,909.96 L257.60,908.70 L259.80,907.46 L261.99,906.21 L264.19,904.98 L266.39,903.75 L268.59,902.52 L270.79,901.30 L272.99,900.09 L275.19,898.88 L277.40,897.68 L279.61,896.49 L281.82,895.31 L284.04,894.13 L286.26,892.95 L288.48,891.79 L290.70,890.63 L292.93,889.48 L295.16,888.33 L297.39,887.20 L299.63,886.07 L301.87,884.95 L304.11,883.84 L306.36,882.73 L308.61,881.63 L310.86,880.54 L313.12,879.46 L315.38,878.39 L317.65,877.33 L319.92,876.27 L322.19,875.22 L324.47,874.19 L326.75,873.16 L329.04,872.14 L331.34,871.12 L333.63,870.12 L335.94,869.13 L338.24,868.15 L340.56,867.17 L342.87,866.21 L345.20,865.25 L347.52,864.31 L349.85,863.37 L352.19,862.44 L354.53,861.51 L356.87,860.59 L359.21,859.68 L361.56,858.77 L363.91,857.87 L366.26,856.97 L368.61,856.08 L370.97,855.19 L373.32,854.30 L375.68,853.42 L378.04,852.54 L380.40,851.66 L382.75,850.78 L385.11,849.90 L387.47,849.02 L389.82,848.15 L392.18,847.27 L394.54,846.40 L396.90,845.53 L399.25,844.66 L401.61,843.80 L403.97,842.93 L406.33,842.07 L408.69,841.21 L411.05,840.35 L413.41,839.50 L415.77,838.64 L418.13,837.79 L420.49,836.94 L422.86,836.10 L425.22,835.25 L427.59,834.41 L429.95,833.57 L432.32,832.74 L434.68,831.91 L437.05,831.08 L439.42,830.25 L441.79,829.43 L444.16,828.61 L446.53,827.80 L448.91,826.99 L451.28,826.18 L453.66,825.37 L456.04,824.57 L458.41,823.78 L460.80,822.98 L463.18,822.19 L465.56,821.41 L467.94,820.63 L470.33,819.85 L472.72,819.08 L475.11,818.31 L477.50,817.55 L479.89,816.79 L482.29,816.04 L484.68,815.29 L487.08,814.54 L489.48,813.80 L491.88,813.07 L494.29,812.34 L496.69,811.62 L499.10,810.90 L501.51,810.18 L503.93,809.48 L506.34,808.77 L508.76,808.08 L511.18,807.39 L513.60,806.70 L513.46,809.22 L513.41,811.75 L513.43,814.29 L513.54,816.82 L513.74,819.34 L514.03,821.85 L514.41,824.35 L514.89,826.83 L515.46,829.28 L516.13,831.70 L516.91,834.08 L517.78,836.43 L518.76,838.74 L519.83,841.00 L521.00,843.22 L522.24,845.40 L523.57,847.54 L524.98,849.62 L526.46,851.66 L528.01,853.65 L529.62,855.59 L531.29,857.48 L533.02,859.32 L534.79,861.10 L536.61,862.82 L538.47,864.50 L540.37,866.12 L542.31,867.69 L544.28,869.22 L546.29,870.71 L548.32,872.16 L550.38,873.58 L552.47,874.96 L554.58,876.32 L556.71,877.65 L558.85,878.96 L561.01,880.25 L563.18,881.52 L565.37,882.79 L567.56,884.04 L569.75,885.29 L571.95,886.53 L574.14,887.78 L576.34,889.03 L578.53,890.29 L580.71,891.55 L582.88,892.83 L585.05,894.12 L587.21,895.43 L589.35,896.74 L591.50,898.06 L593.63,899.40 L595.75,900.74 L597.87,902.10 L599.99,903.46 L602.09,904.83 L604.19,906.22 L606.28,907.61 L608.37,909.00 L610.45,910.41 L612.53,911.82 L614.60,913.24 L616.67,914.66 L618.73,916.09 L620.79,917.53 L622.85,918.97 L624.90,920.42 L626.94,921.87 L628.99,923.33 L631.03,924.79 L633.07,926.25 L635.11,927.72 L637.14,929.19 L639.17,930.66 L641.20,932.13 L643.23,933.61 L645.26,935.09 L647.29,936.57 L649.31,938.05 L651.34,939.53 L653.36,941.02 L655.38,942.50 L657.40,943.99 L659.42,945.48 L661.44,946.97 L663.46,948.47 L665.47,949.96 L667.49,951.46 L669.50,952.96 L671.52,954.46 L673.53,955.96 L675.55,957.46 L677.56,958.96 L679.57,960.47 L681.58,961.98 L683.59,963.48 L685.61,964.99 L687.62,966.50 L689.63,968.01 L691.64,969.53 L693.65,971.04 L695.66,972.55 L697.67,974.07 L699.68,975.58 L701.69,977.10 L703.70,978.62 L705.71,980.14 L707.72,981.67 L709.73,983.20 L711.73,984.73 L713.72,986.27 L715.71,987.81 L717.69,989.36 L719.67,990.92 L721.64,992.49 L723.60,994.07 L725.55,995.66 L727.49,997.26 L729.41,998.87 L731.33,1000.49 L733.23,1002.13 L735.12,1003.78 L737.00,1005.45 L738.86,1007.13 L740.70,1008.83 L742.52,1010.54 L744.33,1012.27 L746.12,1014.03 L747.89,1015.80 L749.64,1017.59 L751.37,1019.40 L753.07,1021.24 L754.76,1023.09 L756.42,1024.97 L758.05,1026.88 L759.66,1028.81 L761.24,1030.76 L762.80,1032.74 L764.32,1034.75 L765.80,1036.79 L767.24,1038.85 L768.63,1040.94 L769.98,1043.06 L771.28,1045.20 L772.53,1047.37 L773.75,1049.57 L774.93,1051.78 L776.08,1054.01 L777.19,1056.26 L778.27,1058.52 L779.33,1060.80 L780.37,1063.09 L781.39,1065.38 L782.38,1067.69 L783.36,1070.00 L784.33,1072.32 L785.28,1074.64 L786.22,1076.97 L787.14,1079.31 L788.06,1081.65 L788.96,1083.99 L789.86,1086.34 L790.74,1088.69 L791.62,1091.05 L792.49,1093.41 L793.36,1095.77 L794.22,1098.13 L795.07,1100.49 L795.92,1102.86 L796.77,1105.23 L797.62,1107.60 L798.46,1109.97 L799.30,1112.34 L800.14,1114.71 L800.98,1117.08 L801.82,1119.45 L802.66,1121.82 L803.51,1124.19 L804.35,1126.56 L805.19,1128.93 L806.04,1131.30 L806.89,1133.66 L807.75,1136.03 L808.60,1138.39 L809.47,1140.75 L810.34,1143.11 L811.21,1145.46 L812.09,1147.82 L812.98,1150.17 L813.88,1152.51 L814.78,1154.86 L815.70,1157.20 L816.62,1159.53 L817.55,1161.86 L818.50,1164.19 L819.45,1166.51 L820.41,1168.83 L821.39,1171.14 L822.38,1173.44 L823.39,1175.74 L824.40,1178.04 L825.43,1180.33 L826.48,1182.61 L827.54,1184.89 L828.61,1187.16 L829.69,1189.42 L830.79,1191.69 L831.89,1193.94 L833.01,1196.19 L834.13,1198.44 L835.27,1200.68 L836.41,1202.92 L837.56,1205.16 L838.72,1207.39 L839.88,1209.62 L841.06,1211.84 L842.23,1214.07 L843.42,1216.29 L844.60,1218.50 L845.80,1220.72 L846.99,1222.93 L848.19,1225.14 L849.39,1227.35 L850.59,1229.56 L851.79,1231.77 L853.00,1233.98 L854.20,1236.18 L855.40,1238.39 L856.60,1240.59 L857.80,1242.80 L859.00,1245.00"/>
<path stroke="#ff0000" d="M163.60,1245.00 L163.62,1242.48 L163.63,1239.96 L163.65,1237.44 L163.66,1234.92 L163.67,1232.40 L163.68,1229.88 L163.69,1227.36 L163.70,1224.84 L163.70,1222.33 L163.71,1219.81 L163.71,1217.29 L163.72,1214.78 L163.72,1212.26 L163.72,1209.74 L163.72,1207.23 L163.72,1204.71 L163.72,1202.20 L163.71,1199.68 L163.71,1197.17 L163.71,1194.65 L163.70,1192.14 L163.70,1189.63 L163.69,1187.11 L163.68,1184.60 L163.68,1182.09 L163.67,1179.57 L163.66,1177.06 L163.65,1174.55 L163.65,1172.03 L163.64,1169.52 L163.63,1167.01 L163.62,1164.50 L163.61,1161.98 L163.60,1159.47 L163.59,1156.96 L163.59,1154.45 L163.58,1151.93 L163.57,1149.42 L163.56,1146.91 L163.55,1144.40 L163.54,1141.89 L163.54,1139.37 L163.53,1136.86 L163.52,1134.35 L163.52,1131.84 L163.51,1129.32 L163.50,1126.81 L163.50,1124.30 L163.50,1121.79 L163.49,1119.27 L163.49,1116.76 L163.49,1114.25 L163.49,1111.73 L163.49,1109.22 L163.49,1106.71 L163.49,1104.19 L163.49,1101.68 L163.50,1099.16 L163.50,1096.65 L163.51,1094.13 L163.51,1091.62 L163.52,1089.10 L163.53,1086.59 L163.54,1084.07 L163.56,1081.56 L163.57,1079.04 L163.59,1076.52 L163.60,1074.00 L163.62,1071.49 L163.64,1068.97 L163.66,1066.45 L163.69,1063.93 L163.71,1061.41 L163.74,1058.89 L163.77,1056.37 L163.80,1053.85 L163.83,1051.33 L163.87,1048.81 L163.91,1046.29 L163.94,1043.76 L163.99,1041.24 L164.03,1038.72 L164.08,1036.20 L164.14,1033.67 L164.20,1031.15 L164.27,1028.63 L164.35,1026.11 L164.44,1023.59 L164.54,1021.07 L164.66,1018.56 L164.78,1016.04 L164.93,1013.53 L165.08,1011.02 L165.26,1008.51 L165.45,1006.01 L165.66,1003.50 L165.89,1001.01 L166.14,998.51 L166.41,996.02 L166.71,993.53 L167.03,991.05 L167.37,988.57 L167.74,986.10 L168.14,983.63 L168.57,981.16 L169.03,978.70 L169.51,976.25 L170.03,973.80 L170.58,971.36 L171.17,968.92 L171.79,966.49 L172.44,964.07 L173.13,961.65 L173.84,959.24 L174.60,956.84 L175.38,954.45 L176.19,952.07 L177.03,949.69 L177.91,947.33 L178.81,944.97 L179.74,942.63 L180.71,940.29 L181.69,937.97 L182.71,935.66 L183.75,933.35 L184.82,931.06 L185.92,928.79 L187.04,926.52 L188.19,924.27 L189.36,922.03 L190.55,919.81 L191.77,917.60 L193.01,915.40 L194.28,913.22 L195.57,911.05 L196.89,908.91 L198.23,906.78 L199.60,904.66 L201.00,902.57 L202.42,900.49 L203.87,898.43 L205.34,896.40 L206.84,894.39 L208.38,892.40 L209.94,890.44 L211.54,888.51 L213.18,886.62 L214.84,884.75 L216.55,882.92 L218.28,881.12 L220.05,879.35 L221.85,877.61 L223.67,875.90 L225.53,874.21 L227.41,872.56 L229.31,870.93 L231.24,869.33 L233.20,867.75 L235.17,866.19 L237.17,864.66 L239.18,863.15 L241.22,861.67 L243.27,860.20 L245.34,858.76 L247.42,857.33 L249.52,855.93 L251.63,854.54 L253.75,853.17 L255.88,851.81 L258.02,850.47 L260.17,849.15 L262.32,847.84 L264.48,846.54 L266.65,845.26 L268.82,843.98 L271.00,842.72 L273.18,841.47 L275.37,840.22 L277.56,838.98 L279.75,837.76 L281.95,836.53 L284.15,835.31 L286.35,834.10 L288.55,832.89 L290.76,831.68 L292.96,830.47 L295.16,829.27 L297.37,828.06 L299.57,826.86 L301.78,825.65 L303.98,824.44 L306.18,823.22 L308.37,822.00 L310.57,820.78 L312.76,819.55 L314.95,818.31 L317.13,817.06 L319.31,815.81 L321.48,814.54 L323.65,813.27 L325.81,811.98 L327.97,810.68 L330.12,809.37 L332.26,808.04 L334.40,806.70 L334.43,809.19 L334.46,811.68 L334.48,814.19 L334.50,816.71 L334.53,819.23 L334.55,821.76 L334.59,824.29 L334.63,826.83 L334.69,829.37 L334.76,831.91 L334.85,834.45 L334.96,836.99 L335.10,839.53 L335.26,842.07 L335.45,844.60 L335.67,847.13 L335.93,849.65 L336.23,852.16 L336.56,854.67 L336.94,857.16 L337.37,859.65 L337.84,862.12 L338.37,864.58 L338.95,867.03 L339.58,869.46 L340.28,871.87 L341.03,874.27 L341.84,876.65 L342.71,879.01 L343.62,881.36 L344.58,883.69 L345.59,886.00 L346.64,888.29 L347.73,890.57 L348.87,892.83 L350.03,895.07 L351.23,897.29 L352.46,899.49 L353.72,901.68 L355.01,903.84 L356.32,905.99 L357.66,908.13 L359.02,910.25 L360.40,912.35 L361.81,914.44 L363.24,916.51 L364.68,918.57 L366.15,920.62 L367.63,922.66 L369.13,924.69 L370.65,926.70 L372.18,928.71 L373.72,930.71 L375.27,932.70 L376.84,934.68 L378.42,936.65 L380.00,938.62 L381.60,940.59 L383.20,942.55 L384.81,944.50 L386.42,946.45 L388.04,948.40 L389.65,950.35 L391.27,952.29 L392.90,954.24 L394.52,956.18 L396.14,958.13 L397.75,960.08 L399.37,962.03 L400.98,963.98 L402.58,965.94 L404.18,967.90 L405.76,969.86 L407.35,971.83 L408.92,973.80 L410.49,975.78 L412.05,977.77 L413.60,979.76 L415.15,981.75 L416.68,983.75 L418.21,985.76 L419.74,987.77 L421.25,989.79 L422.76,991.81 L424.26,993.84 L425.75,995.87 L427.23,997.92 L428.70,999.96 L430.17,1002.02 L431.63,1004.08 L433.08,1006.15 L434.52,1008.22 L435.95,1010.30 L437.38,1012.39 L438.79,1014.49 L440.20,1016.59 L441.59,1018.70 L442.97,1020.83 L444.33,1022.96 L445.67,1025.10 L446.99,1027.26 L448.28,1029.43 L449.54,1031.61 L450.78,1033.80 L451.97,1036.02 L453.14,1038.24 L454.26,1040.49 L455.35,1042.75 L456.38,1045.04 L457.38,1047.34 L458.32,1049.66 L459.21,1052.00 L460.06,1054.37 L460.86,1056.75 L461.62,1059.14 L462.34,1061.55 L463.02,1063.97 L463.68,1066.40 L464.32,1068.84 L464.93,1071.29 L465.51,1073.74 L466.08,1076.19 L466.62,1078.66 L467.15,1081.13 L467.65,1083.60 L468.14,1086.08 L468.62,1088.56 L469.09,1091.04 L469.54,1093.53 L469.98,1096.03 L470.41,1098.52 L470.84,1101.02 L471.26,1103.52 L471.67,1106.02 L472.08,1108.52 L472.49,1111.02 L472.90,1113.52 L473.31,1116.02 L473.72,1118.52 L474.13,1121.02 L474.55,1123.52 L474.98,1126.01 L475.41,1128.51 L475.85,1131.00 L476.30,1133.49 L476.77,1135.97 L477.23,1138.46 L477.71,1140.94 L478.20,1143.42 L478.69,1145.89 L479.19,1148.37 L479.69,1150.84 L480.20,1153.31 L480.71,1155.78 L481.23,1158.25 L481.75,1160.72 L482.27,1163.18 L482.80,1165.65 L483.32,1168.11 L483.85,1170.58 L484.38,1173.04 L484.91,1175.50 L485.44,1177.97 L485.97,1180.43 L486.49,1182.89 L487.02,1185.36 L487.54,1187.82 L488.06,1190.29 L488.57,1192.75 L489.08,1195.22 L489.59,1197.69 L490.09,1200.16 L490.58,1202.63 L491.07,1205.10 L491.54,1207.57 L492.02,1210.05 L492.48,1212.53 L492.94,1215.01 L493.38,1217.49 L493.82,1219.98 L494.24,1222.46 L494.65,1224.96 L495.06,1227.45 L495.45,1229.95 L495.82,1232.45 L496.19,1234.95 L496.54,1237.46 L496.87,1239.97 L497.19,1242.48 L497.50,1245.00"/>
<path stroke="#0000ff" d="M166.50,1245.00 L166.51,1242.50 L166.52,1240.00 L166.54,1237.50 L166.55,1234.99 L166.56,1232.49 L166.58,1229.98 L166.59,1227.47 L166.61,1224.97 L166.63,1222.46 L166.65,1219.95 L166.67,1217.44 L166.69,1214.92 L166.71,1212.41 L166.73,1209.90 L166.75,1207.38 L166.77,1204.87 L166.79,1202.35 L166.82,1199.84 L166.84,1197.32 L166.86,1194.80 L166.89,1192.29 L166.91,1189.77 L166.93,1187.25 L166.96,1184.74 L166.98,1182.22 L167.01,1179.70 L167.03,1177.18 L167.06,1174.66 L167.08,1172.15 L167.11,1169.63 L167.13,1167.11 L167.16,1164.59 L167.18,1162.08 L167.21,1159.56 L167.23,1157.05 L167.26,1154.53 L167.28,1152.02 L167.30,1149.50 L167.33,1146.99 L167.35,1144.47 L167.37,1141.96 L167.39,1139.45 L167.42,1136.94 L167.44,1134.43 L167.46,1131.92 L167.48,1129.41 L167.50,1126.91 L167.52,1124.40 L167.54,1121.90 L167.55,1119.39 L167.57,1116.89 L167.59,1114.39 L167.60,1111.89 L167.62,1109.39 L167.64,1106.89 L167.66,1104.39 L167.68,1101.90 L167.71,1099.40 L167.73,1096.90 L167.76,1094.40 L167.80,1091.90 L167.83,1089.40 L167.87,1086.90 L167.92,1084.40 L167.97,1081.90 L168.03,1079.39 L168.09,1076.89 L168.16,1074.38 L168.23,1071.87 L168.32,1069.36 L168.41,1066.85 L168.50,1064.34 L168.61,1061.82 L168.73,1059.30 L168.85,1056.77 L168.98,1054.25 L169.13,1051.72 L169.28,1049.19 L169.45,1046.65 L169.62,1044.11 L169.81,1041.57 L170.01,1039.02 L170.23,1036.47 L170.47,1033.92 L170.73,1031.38 L171.04,1028.85 L171.39,1026.34 L171.80,1023.85 L172.27,1021.38 L172.81,1018.94 L173.42,1016.53 L174.12,1014.16 L174.91,1011.84 L175.80,1009.56 L176.80,1007.33 L177.91,1005.17 L179.14,1003.05 L180.48,1001.00 L181.92,999.02 L183.47,997.09 L185.11,995.22 L186.83,993.41 L188.62,991.64 L190.47,989.91 L192.37,988.21 L194.31,986.55 L196.27,984.91 L198.25,983.28 L200.23,981.67 L202.21,980.06 L204.18,978.46 L206.15,976.86 L208.12,975.27 L210.08,973.69 L212.04,972.10 L214.00,970.52 L215.95,968.94 L217.90,967.36 L219.85,965.77 L221.79,964.19 L223.74,962.61 L225.68,961.03 L227.62,959.45 L229.56,957.87 L231.51,956.29 L233.45,954.72 L235.40,953.15 L237.36,951.58 L239.32,950.02 L241.28,948.47 L243.25,946.93 L245.23,945.39 L247.22,943.86 L249.21,942.33 L251.21,940.81 L253.21,939.30 L255.22,937.80 L257.24,936.30 L259.26,934.82 L261.29,933.34 L263.33,931.86 L265.37,930.40 L267.42,928.94 L269.47,927.49 L271.53,926.05 L273.60,924.62 L275.67,923.20 L277.75,921.79 L279.83,920.38 L281.93,918.99 L284.02,917.60 L286.13,916.22 L288.24,914.85 L290.35,913.49 L292.47,912.15 L294.60,910.81 L296.73,909.48 L298.87,908.16 L301.02,906.85 L303.17,905.55 L305.32,904.26 L307.49,902.98 L309.66,901.71 L311.83,900.45 L314.01,899.20 L316.20,897.97 L318.39,896.74 L320.58,895.53 L322.79,894.33 L325.00,893.13 L327.21,891.95 L329.43,890.78 L331.65,889.61 L333.88,888.45 L336.11,887.30 L338.34,886.16 L340.58,885.02 L342.82,883.89 L345.06,882.77 L347.30,881.65 L349.55,880.53 L351.80,879.41 L354.05,878.30 L356.30,877.19 L358.55,876.08 L360.81,874.98 L363.06,873.87 L365.31,872.76 L367.56,871.66 L369.82,870.55 L372.07,869.44 L374.32,868.32 L376.56,867.20 L378.81,866.08 L381.06,864.96 L383.30,863.83 L385.54,862.69 L387.78,861.56 L390.01,860.41 L392.25,859.27 L394.48,858.12 L396.71,856.97 L398.94,855.82 L401.17,854.66 L403.40,853.50 L405.63,852.34 L407.85,851.18 L410.08,850.02 L412.31,848.85 L414.53,847.69 L416.76,846.53 L418.98,845.36 L421.21,844.20 L423.43,843.03 L425.66,841.87 L427.89,840.71 L430.11,839.55 L432.34,838.39 L434.57,837.23 L436.80,836.07 L439.03,834.92 L441.26,833.77 L443.50,832.62 L445.73,831.48 L447.97,830.34 L450.21,829.20 L452.45,828.07 L454.69,826.94 L456.94,825.82 L459.19,824.70 L461.44,823.59 L463.69,822.48 L465.95,821.38 L468.20,820.28 L470.47,819.19 L472.73,818.11 L475.00,817.03 L477.27,815.96 L479.55,814.90 L481.83,813.84 L484.11,812.80 L486.40,811.76 L488.69,810.73 L490.99,809.71 L493.29,808.70 L495.59,807.69 L497.90,806.70 L497.58,809.31 L497.40,811.90 L497.36,814.46 L497.44,816.99 L497.64,819.50 L497.96,821.98 L498.40,824.43 L498.94,826.85 L499.59,829.24 L500.34,831.60 L501.18,833.94 L502.12,836.24 L503.14,838.51 L504.24,840.75 L505.42,842.96 L506.67,845.13 L507.99,847.28 L509.38,849.39 L510.82,851.46 L512.31,853.50 L513.86,855.50 L515.45,857.47 L517.08,859.41 L518.74,861.30 L520.44,863.17 L522.17,864.99 L523.93,866.79 L525.72,868.55 L527.54,870.29 L529.38,872.00 L531.24,873.68 L533.13,875.34 L535.03,876.98 L536.96,878.60 L538.90,880.19 L540.86,881.78 L542.83,883.34 L544.81,884.89 L546.81,886.43 L548.82,887.96 L550.83,889.49 L552.85,891.00 L554.87,892.51 L556.90,894.02 L558.93,895.52 L560.95,897.02 L562.98,898.53 L565.00,900.04 L567.03,901.54 L569.05,903.05 L571.07,904.56 L573.09,906.07 L575.11,907.58 L577.12,909.10 L579.13,910.62 L581.14,912.14 L583.15,913.66 L585.15,915.19 L587.15,916.71 L589.15,918.25 L591.14,919.78 L593.13,921.32 L595.12,922.86 L597.10,924.41 L599.08,925.96 L601.06,927.51 L603.03,929.07 L604.99,930.63 L606.95,932.20 L608.91,933.77 L610.86,935.35 L612.81,936.93 L614.75,938.52 L616.68,940.11 L618.61,941.71 L620.54,943.32 L622.45,944.93 L624.37,946.55 L626.27,948.17 L628.18,949.80 L630.08,951.43 L631.97,953.07 L633.86,954.71 L635.75,956.36 L637.63,958.01 L639.51,959.67 L641.39,961.32 L643.27,962.99 L645.15,964.65 L647.02,966.32 L648.90,967.99 L650.77,969.66 L652.64,971.33 L654.52,973.01 L656.39,974.68 L658.26,976.36 L660.14,978.04 L662.02,979.72 L663.90,981.40 L665.78,983.08 L667.67,984.76 L669.55,986.44 L671.45,988.12 L673.34,989.80 L675.24,991.48 L677.14,993.16 L679.05,994.83 L680.97,996.51 L682.88,998.18 L684.80,999.85 L686.72,1001.53 L688.63,1003.21 L690.54,1004.89 L692.44,1006.58 L694.33,1008.28 L696.20,1010.00 L698.06,1011.72 L699.89,1013.46 L701.71,1015.21 L703.50,1016.98 L705.26,1018.77 L707.00,1020.58 L708.70,1022.41 L710.37,1024.26 L712.00,1026.14 L713.59,1028.04 L715.14,1029.98 L716.64,1031.94 L718.10,1033.94 L719.51,1035.97 L720.86,1038.03 L722.16,1040.13 L723.41,1042.27 L724.60,1044.44 L725.75,1046.64 L726.85,1048.87 L727.91,1051.13 L728.92,1053.41 L729.91,1055.71 L730.86,1058.04 L731.77,1060.39 L732.66,1062.75 L733.53,1065.13 L734.37,1067.51 L735.20,1069.91 L736.01,1072.32 L736.81,1074.74 L737.59,1077.15 L738.37,1079.57 L739.14,1081.99 L739.92,1084.41 L740.69,1086.83 L741.46,1089.24 L742.23,1091.65 L743.00,1094.06 L743.77,1096.47 L744.55,1098.87 L745.32,1101.27 L746.09,1103.67 L746.87,1106.07 L747.65,1108.46 L748.43,1110.85 L749.22,1113.24 L750.01,1115.63 L750.80,1118.01 L751.60,1120.39 L752.40,1122.77 L753.20,1125.14 L754.02,1127.51 L754.83,1129.88 L755.66,1132.25 L756.49,1134.61 L757.32,1136.97 L758.17,1139.33 L759.02,1141.68 L759.88,1144.04 L760.75,1146.38 L761.62,1148.73 L762.51,1151.07 L763.40,1153.41 L764.31,1155.74 L765.22,1158.07 L766.15,1160.40 L767.09,1162.73 L768.03,1165.05 L768.99,1167.37 L769.96,1169.68 L770.95,1171.99 L771.95,1174.30 L772.96,1176.60 L773.98,1178.90 L775.01,1181.20 L776.06,1183.50 L777.12,1185.79 L778.19,1188.08 L779.26,1190.36 L780.34,1192.64 L781.43,1194.93 L782.53,1197.21 L783.63,1199.48 L784.73,1201.76 L785.84,1204.03 L786.94,1206.31 L788.05,1208.58 L789.16,1210.85 L790.27,1213.13 L791.37,1215.40 L792.47,1217.67 L793.57,1219.94 L794.66,1222.21 L795.75,1224.49 L796.83,1226.76 L797.90,1229.03 L798.96,1231.31 L800.02,1233.59 L801.06,1235.87 L802.09,1238.15 L803.11,1240.43 L804.11,1242.71 L805.10,1245.00"/>
<path stroke="#008080" d="M163.75,1245.00 L163.75,1242.47 L163.75,1239.93 L163.75,1237.40 L163.76,1234.87 L163.76,1232.34 L163.77,1229.82 L163.77,1227.29 L163.78,1224.77 L163.79,1222.24 L163.80,1219.72 L163.81,1217.20 L163.82,1214.68 L163.83,1212.16 L163.84,1209.65 L163.86,1207.13 L163.87,1204.61 L163.89,1202.10 L163.91,1199.59 L163.92,1197.07 L163.94,1194.56 L163.96,1192.05 L163.98,1189.54 L164.00,1187.03 L164.03,1184.52 L164.05,1182.01 L164.07,1179.50 L164.10,1176.99 L164.12,1174.48 L164.15,1171.98 L164.18,1169.47 L164.21,1166.96 L164.23,1164.45 L164.26,1161.94 L164.29,1159.44 L164.32,1156.93 L164.36,1154.42 L164.39,1151.91 L164.42,1149.41 L164.45,1146.90 L164.49,1144.39 L164.52,1141.88 L164.56,1139.37 L164.59,1136.86 L164.63,1134.35 L164.67,1131.84 L164.70,1129.33 L164.74,1126.81 L164.78,1124.30 L164.82,1121.79 L164.86,1119.27 L164.90,1116.75 L164.94,1114.24 L164.98,1111.72 L165.02,1109.20 L165.07,1106.68 L165.11,1104.16 L165.15,1101.64 L165.20,1099.11 L165.24,1096.59 L165.28,1094.06 L165.33,1091.53 L165.37,1089.00 L165.42,1086.47 L165.46,1083.94 L165.51,1081.41 L165.56,1078.87 L165.60,1076.33 L165.65,1073.79 L165.70,1071.25 L165.75,1068.71 L165.80,1066.17 L165.86,1063.63 L165.93,1061.08 L166.01,1058.54 L166.10,1056.00 L166.21,1053.46 L166.32,1050.93 L166.46,1048.40 L166.61,1045.87 L166.78,1043.34 L166.97,1040.82 L167.19,1038.31 L167.43,1035.80 L167.69,1033.29 L167.99,1030.80 L168.31,1028.31 L168.66,1025.82 L169.05,1023.35 L169.48,1020.88 L169.93,1018.43 L170.43,1015.98 L170.97,1013.54 L171.55,1011.11 L172.17,1008.70 L172.84,1006.29 L173.55,1003.90 L174.31,1001.52 L175.12,999.16 L175.98,996.81 L176.90,994.48 L177.87,992.17 L178.89,989.89 L179.97,987.63 L181.10,985.40 L182.30,983.20 L183.54,981.03 L184.83,978.88 L186.17,976.76 L187.55,974.66 L188.97,972.58 L190.42,970.52 L191.91,968.48 L193.42,966.45 L194.96,964.44 L196.52,962.45 L198.09,960.46 L199.68,958.49 L201.28,956.53 L202.89,954.58 L204.50,952.64 L206.13,950.70 L207.77,948.78 L209.42,946.87 L211.08,944.96 L212.74,943.07 L214.42,941.18 L216.10,939.31 L217.80,937.44 L219.50,935.58 L221.22,933.73 L222.94,931.89 L224.67,930.06 L226.41,928.24 L228.16,926.43 L229.91,924.62 L231.68,922.83 L233.45,921.04 L235.23,919.26 L237.02,917.50 L238.82,915.74 L240.63,913.99 L242.45,912.24 L244.27,910.51 L246.10,908.78 L247.94,907.07 L249.78,905.36 L251.64,903.66 L253.50,901.97 L255.37,900.28 L257.25,898.61 L259.13,896.94 L261.02,895.28 L262.92,893.63 L264.83,891.99 L266.74,890.36 L268.66,888.73 L270.59,887.11 L272.52,885.50 L274.46,883.90 L276.41,882.31 L278.36,880.72 L280.32,879.14 L282.28,877.57 L284.26,876.01 L286.23,874.45 L288.22,872.90 L290.21,871.36 L292.21,869.83 L294.21,868.31 L296.22,866.79 L298.23,865.28 L300.25,863.77 L302.28,862.28 L304.31,860.79 L306.34,859.31 L308.38,857.83 L310.43,856.37 L312.48,854.91 L314.54,853.46 L316.60,852.01 L318.67,850.57 L320.74,849.14 L322.82,847.71 L324.90,846.29 L326.98,844.88 L329.07,843.47 L331.16,842.07 L333.25,840.67 L335.35,839.27 L337.45,837.88 L339.55,836.48 L341.65,835.09 L343.75,833.70 L345.85,832.31 L347.95,830.92 L350.05,829.53 L352.14,828.14 L354.24,826.75 L356.33,825.35 L358.43,823.95 L360.52,822.55 L362.60,821.14 L364.69,819.73 L366.76,818.31 L368.84,816.88 L370.91,815.45 L372.97,814.02 L375.03,812.57 L377.08,811.12 L379.13,809.65 L381.17,808.18 L383.20,806.70 L382.96,809.14 L382.75,811.62 L382.58,814.12 L382.45,816.65 L382.37,819.19 L382.34,821.75 L382.38,824.31 L382.48,826.88 L382.66,829.43 L382.91,831.98 L383.24,834.51 L383.67,837.02 L384.18,839.50 L384.80,841.94 L385.53,844.35 L386.36,846.71 L387.30,849.03 L388.34,851.29 L389.48,853.51 L390.71,855.68 L392.03,857.79 L393.44,859.85 L394.93,861.84 L396.50,863.78 L398.14,865.66 L399.86,867.48 L401.64,869.23 L403.48,870.92 L405.38,872.54 L407.34,874.09 L409.35,875.58 L411.40,877.01 L413.50,878.39 L415.64,879.72 L417.81,881.00 L420.01,882.25 L422.25,883.45 L424.50,884.62 L426.78,885.76 L429.08,886.88 L431.39,887.97 L433.70,889.04 L436.03,890.10 L438.35,891.16 L440.67,892.20 L442.99,893.24 L445.31,894.28 L447.62,895.31 L449.92,896.34 L452.23,897.37 L454.53,898.40 L456.83,899.42 L459.13,900.43 L461.43,901.45 L463.72,902.46 L466.02,903.47 L468.31,904.47 L470.61,905.47 L472.90,906.47 L475.20,907.47 L477.50,908.46 L479.80,909.45 L482.11,910.44 L484.41,911.42 L486.72,912.40 L489.03,913.38 L491.34,914.36 L493.65,915.33 L495.97,916.30 L498.28,917.28 L500.60,918.25 L502.92,919.22 L505.23,920.19 L507.55,921.15 L509.87,922.12 L512.20,923.09 L514.52,924.06 L516.84,925.03 L519.16,926.00 L521.48,926.97 L523.80,927.94 L526.13,928.92 L528.45,929.89 L530.77,930.87 L533.09,931.85 L535.41,932.83 L537.72,933.82 L540.04,934.81 L542.36,935.80 L544.67,936.79 L546.99,937.79 L549.30,938.79 L551.61,939.80 L553.92,940.81 L556.23,941.82 L558.53,942.84 L560.83,943.86 L563.13,944.89 L565.43,945.93 L567.73,946.97 L570.02,948.01 L572.31,949.06 L574.60,950.11 L576.89,951.17 L579.17,952.23 L581.46,953.29 L583.74,954.36 L586.02,955.44 L588.30,956.51 L590.57,957.59 L592.85,958.68 L595.12,959.76 L597.39,960.85 L599.66,961.94 L601.93,963.04 L604.19,964.14 L606.46,965.24 L608.72,966.34 L610.98,967.45 L613.24,968.55 L615.50,969.66 L617.76,970.78 L620.02,971.89 L622.27,973.00 L624.53,974.12 L626.78,975.24 L629.03,976.36 L631.28,977.48 L633.54,978.60 L635.78,979.72 L638.03,980.84 L640.28,981.96 L642.53,983.09 L644.77,984.21 L647.02,985.34 L649.26,986.46 L651.51,987.59 L653.75,988.71 L655.99,989.84 L658.23,990.97 L660.48,992.10 L662.72,993.23 L664.96,994.36 L667.20,995.49 L669.44,996.63 L671.68,997.76 L673.92,998.90 L676.16,1000.03 L678.40,1001.17 L680.64,1002.31 L682.88,1003.46 L685.13,1004.60 L687.37,1005.74 L689.61,1006.89 L691.85,1008.04 L694.09,1009.19 L696.33,1010.34 L698.58,1011.50 L700.82,1012.65 L703.06,1013.81 L705.31,1014.97 L707.55,1016.14 L709.80,1017.30 L712.04,1018.47 L714.29,1019.64 L716.54,1020.81 L718.79,1021.98 L721.04,1023.16 L723.29,1024.34 L725.53,1025.53 L727.77,1026.73 L730.00,1027.95 L732.21,1029.18 L734.41,1030.43 L736.59,1031.71 L738.75,1033.02 L740.88,1034.35 L742.98,1035.73 L745.05,1037.14 L747.08,1038.59 L749.08,1040.08 L751.03,1041.62 L752.94,1043.22 L754.80,1044.86 L756.62,1046.55 L758.40,1048.29 L760.14,1050.08 L761.84,1051.90 L763.51,1053.76 L765.14,1055.65 L766.75,1057.58 L768.33,1059.53 L769.88,1061.51 L771.41,1063.52 L772.92,1065.54 L774.41,1067.58 L775.89,1069.63 L777.35,1071.70 L778.80,1073.77 L780.24,1075.85 L781.67,1077.94 L783.09,1080.02 L784.51,1082.12 L785.91,1084.22 L787.32,1086.32 L788.71,1088.42 L790.10,1090.53 L791.48,1092.64 L792.86,1094.75 L794.23,1096.87 L795.60,1098.99 L796.97,1101.11 L798.33,1103.22 L799.70,1105.35 L801.06,1107.47 L802.41,1109.59 L803.77,1111.71 L805.13,1113.83 L806.49,1115.95 L807.85,1118.07 L809.21,1120.18 L810.57,1122.30 L811.94,1124.41 L813.31,1126.52 L814.68,1128.62 L816.06,1130.73 L817.44,1132.83 L818.82,1134.92 L820.21,1137.02 L821.61,1139.10 L823.01,1141.18 L824.42,1143.26 L825.84,1145.33 L827.27,1147.40 L828.70,1149.46 L830.15,1151.51 L831.60,1153.55 L833.07,1155.59 L834.54,1157.62 L836.03,1159.64 L837.53,1161.66 L839.04,1163.66 L840.56,1165.66 L842.10,1167.65 L843.65,1169.62 L845.21,1171.59 L846.79,1173.55 L848.38,1175.50 L849.99,1177.43 L851.60,1179.37 L853.23,1181.29 L854.87,1183.20 L856.52,1185.11 L858.18,1187.01 L859.84,1188.91 L861.52,1190.80 L863.20,1192.68 L864.88,1194.56 L866.58,1196.43 L868.28,1198.31 L869.98,1200.17 L871.69,1202.04 L873.40,1203.90 L875.11,1205.75 L876.83,1207.61 L878.54,1209.47 L880.26,1211.32 L881.98,1213.17 L883.69,1215.03 L885.41,1216.88 L887.12,1218.73 L888.83,1220.59 L890.54,1222.44 L892.24,1224.30 L893.94,1226.16 L895.63,1228.03 L897.31,1229.89 L898.99,1231.77 L900.66,1233.64 L902.33,1235.52 L903.98,1237.40 L905.63,1239.29 L907.26,1241.19 L908.89,1243.09 L910.50,1245.00"/>
</g>
<g stroke-width="7.5" stroke-linecap="round">
<line x1="736.8" x2="840.5" y1="779.1" y2="779.1" stroke="#000000"/>
<line x1="736.8" x2="840.5" y1="828" y2="828" stroke="#ff0000"/>
<line x1="736.8" x2="840.5" y1="876.4" y2="876.4" stroke="#0000ff"/>
<line x1="736.8" x2="840.5" y1="925" y2="925" stroke="#008080"/>
</g>
<g stroke="#000" stroke-width="5.8" stroke-linecap="round" fill="none">
<rect x="161.2" y="1393.7" width="812.4" height="539.7" stroke-linejoin="round"/>
<path d="M161.2,1933.4v9.6M283.1,1933.4v9.6M404.9,1933.4v9.6M526.8,1933.4v9.6M648.6,1933.4v9.6M770.5,1933.4v9.6M892.4,1933.4v9.6M222.1,1933.4v4.8M344.0,1933.4v4.8M465.9,1933.4v4.8M587.7,1933.4v4.8M709.6,1933.4v4.8M831.4,1933.4v4.8M953.3,1933.4v4.8M161.2,1933.4h-11M161.2,1850.4h-11M161.2,1767.3h-11M161.2,1684.3h-11M161.2,1601.3h-11M161.2,1518.2h-11M161.2,1435.2h-11M161.2,1891.9h-5.6M161.2,1808.9h-5.6M161.2,1725.8h-5.6M161.2,1642.8h-5.6M161.2,1559.8h-5.6M161.2,1476.7h-5.6M161.2,1393.7h-5.6"/>
</g>
<clipPath id="cc"><rect x="160.4" y="1393.7" width="813.2" height="541.3"/></clipPath>
<g clip-path="url(#cc)" fill="none" stroke-width="7.3" stroke-linejoin="round" stroke-linecap="butt">
<path stroke="#000000" stroke-width="7.8" d="M162.00,1936.00 L162.03,1933.49 L162.06,1930.98 L162.08,1928.48 L162.10,1925.97 L162.12,1923.46 L162.13,1920.95 L162.14,1918.44 L162.15,1915.93 L162.16,1913.42 L162.16,1910.91 L162.16,1908.40 L162.16,1905.88 L162.16,1903.37 L162.15,1900.86 L162.14,1898.35 L162.14,1895.84 L162.13,1893.33 L162.12,1890.82 L162.10,1888.30 L162.09,1885.79 L162.08,1883.28 L162.07,1880.77 L162.06,1878.26 L162.04,1875.74 L162.03,1873.23 L162.02,1870.72 L162.01,1868.21 L162.00,1865.70 L161.99,1863.18 L161.98,1860.67 L161.98,1858.16 L161.97,1855.65 L161.97,1853.14 L161.97,1850.63 L161.97,1848.12 L161.97,1845.61 L161.98,1843.10 L161.99,1840.59 L162.00,1838.08 L162.02,1835.57 L162.03,1833.06 L162.06,1830.55 L162.08,1828.04 L162.11,1825.53 L162.14,1823.02 L162.17,1820.52 L162.20,1818.01 L162.24,1815.50 L162.28,1812.99 L162.32,1810.48 L162.36,1807.98 L162.40,1805.47 L162.44,1802.96 L162.48,1800.45 L162.52,1797.95 L162.56,1795.44 L162.59,1792.93 L162.63,1790.42 L162.67,1787.91 L162.70,1785.40 L162.74,1782.89 L162.77,1780.38 L162.80,1777.87 L162.82,1775.36 L162.85,1772.85 L162.87,1770.33 L162.88,1767.82 L162.90,1765.31 L162.90,1762.79 L162.91,1760.28 L162.91,1757.76 L162.91,1755.25 L162.91,1752.73 L162.91,1750.21 L162.91,1747.69 L162.92,1745.18 L162.94,1742.66 L162.98,1740.14 L163.02,1737.63 L163.09,1735.11 L163.17,1732.60 L163.28,1730.08 L163.40,1727.57 L163.56,1725.06 L163.74,1722.55 L163.95,1720.05 L164.20,1717.54 L164.48,1715.04 L164.81,1712.54 L165.17,1710.06 L165.59,1707.58 L166.05,1705.12 L166.57,1702.67 L167.15,1700.23 L167.78,1697.82 L168.48,1695.43 L169.25,1693.05 L170.09,1690.71 L171.00,1688.39 L171.99,1686.09 L173.04,1683.82 L174.14,1681.58 L175.31,1679.35 L176.52,1677.15 L177.77,1674.96 L179.06,1672.79 L180.39,1670.64 L181.74,1668.50 L183.11,1666.37 L184.50,1664.26 L185.91,1662.16 L187.34,1660.08 L188.80,1658.01 L190.27,1655.96 L191.76,1653.93 L193.27,1651.92 L194.80,1649.92 L196.35,1647.94 L197.91,1645.98 L199.50,1644.03 L201.09,1642.09 L202.71,1640.17 L204.34,1638.27 L205.98,1636.38 L207.64,1634.50 L209.32,1632.64 L211.00,1630.78 L212.70,1628.94 L214.41,1627.12 L216.14,1625.30 L217.87,1623.49 L219.62,1621.70 L221.38,1619.91 L223.14,1618.13 L224.92,1616.36 L226.70,1614.60 L228.50,1612.85 L230.30,1611.11 L232.11,1609.37 L233.92,1607.64 L235.74,1605.91 L237.57,1604.19 L239.40,1602.48 L241.24,1600.77 L243.08,1599.06 L244.93,1597.36 L246.79,1595.67 L248.64,1593.98 L250.51,1592.30 L252.38,1590.62 L254.25,1588.95 L256.13,1587.28 L258.01,1585.62 L259.90,1583.96 L261.79,1582.31 L263.69,1580.66 L265.59,1579.02 L267.50,1577.38 L269.41,1575.75 L271.33,1574.13 L273.25,1572.51 L275.18,1570.89 L277.11,1569.29 L279.04,1567.68 L280.98,1566.09 L282.92,1564.49 L284.87,1562.91 L286.82,1561.33 L288.78,1559.75 L290.74,1558.18 L292.71,1556.62 L294.68,1555.06 L296.65,1553.51 L298.63,1551.96 L300.61,1550.42 L302.60,1548.89 L304.59,1547.36 L306.58,1545.83 L308.58,1544.32 L310.58,1542.80 L312.59,1541.30 L314.60,1539.80 L316.61,1538.30 L318.63,1536.81 L320.64,1535.32 L322.67,1533.84 L324.69,1532.36 L326.72,1530.89 L328.75,1529.42 L330.78,1527.95 L332.81,1526.48 L334.85,1525.02 L336.89,1523.56 L338.93,1522.10 L340.97,1520.64 L343.01,1519.18 L345.05,1517.73 L347.09,1516.27 L349.13,1514.82 L351.17,1513.36 L353.22,1511.90 L355.26,1510.45 L357.30,1508.99 L359.34,1507.53 L361.38,1506.06 L363.42,1504.60 L365.46,1503.13 L367.50,1501.66 L369.54,1500.19 L371.57,1498.72 L373.60,1497.24 L375.64,1495.76 L377.67,1494.28 L379.70,1492.79 L381.73,1491.31 L383.76,1489.82 L385.79,1488.34 L387.82,1486.86 L389.86,1485.38 L391.89,1483.90 L393.93,1482.42 L395.97,1480.95 L398.01,1479.48 L400.05,1478.02 L402.10,1476.56 L404.15,1475.11 L406.20,1473.67 L408.26,1472.23 L410.33,1470.80 L412.39,1469.37 L414.47,1467.96 L416.55,1466.55 L418.63,1465.16 L420.72,1463.77 L422.82,1462.40 L424.92,1461.04 L427.03,1459.69 L429.15,1458.35 L431.28,1457.03 L433.41,1455.72 L435.56,1454.43 L437.71,1453.15 L439.87,1451.88 L442.04,1450.63 L444.22,1449.40 L446.41,1448.19 L448.61,1446.99 L450.82,1445.82 L453.04,1444.66 L455.28,1443.52 L457.52,1442.40 L459.78,1441.31 L462.05,1440.23 L464.33,1439.18 L466.63,1438.15 L468.94,1437.14 L471.26,1436.16 L473.60,1435.20 L473.19,1437.81 L472.89,1440.41 L472.71,1443.00 L472.64,1445.57 L472.67,1448.12 L472.80,1450.66 L473.04,1453.18 L473.38,1455.67 L473.81,1458.15 L474.33,1460.60 L474.95,1463.03 L475.65,1465.43 L476.44,1467.80 L477.31,1470.14 L478.25,1472.45 L479.28,1474.73 L480.38,1476.97 L481.54,1479.18 L482.78,1481.35 L484.08,1483.49 L485.44,1485.60 L486.85,1487.67 L488.32,1489.71 L489.82,1491.73 L491.37,1493.73 L492.95,1495.70 L494.57,1497.65 L496.20,1499.59 L497.86,1501.51 L499.54,1503.42 L501.23,1505.32 L502.92,1507.21 L504.62,1509.10 L506.32,1510.98 L508.03,1512.85 L509.75,1514.71 L511.46,1516.57 L513.19,1518.42 L514.91,1520.27 L516.64,1522.11 L518.38,1523.94 L520.12,1525.77 L521.86,1527.60 L523.60,1529.42 L525.35,1531.24 L527.10,1533.06 L528.85,1534.87 L530.61,1536.68 L532.36,1538.48 L534.12,1540.29 L535.88,1542.09 L537.64,1543.89 L539.41,1545.68 L541.17,1547.48 L542.94,1549.27 L544.70,1551.06 L546.47,1552.86 L548.23,1554.65 L550.00,1556.44 L551.77,1558.23 L553.53,1560.02 L555.29,1561.82 L557.06,1563.61 L558.82,1565.40 L560.58,1567.20 L562.34,1569.00 L564.10,1570.80 L565.86,1572.60 L567.61,1574.41 L569.36,1576.21 L571.11,1578.02 L572.86,1579.84 L574.60,1581.65 L576.35,1583.47 L578.08,1585.30 L579.82,1587.12 L581.55,1588.95 L583.28,1590.78 L585.01,1592.62 L586.74,1594.46 L588.46,1596.30 L590.18,1598.15 L591.89,1599.99 L593.61,1601.84 L595.31,1603.70 L597.02,1605.56 L598.72,1607.42 L600.42,1609.28 L602.12,1611.15 L603.81,1613.02 L605.50,1614.90 L607.18,1616.77 L608.87,1618.66 L610.54,1620.54 L612.22,1622.43 L613.89,1624.32 L615.56,1626.22 L617.22,1628.11 L618.88,1630.02 L620.53,1631.92 L622.18,1633.83 L623.83,1635.74 L625.47,1637.66 L627.11,1639.58 L628.74,1641.50 L630.37,1643.43 L632.00,1645.36 L633.62,1647.29 L635.24,1649.23 L636.85,1651.17 L638.46,1653.11 L640.06,1655.06 L641.66,1657.02 L643.25,1658.97 L644.84,1660.93 L646.43,1662.89 L648.01,1664.86 L649.58,1666.83 L651.15,1668.81 L652.71,1670.79 L654.27,1672.77 L655.83,1674.75 L657.38,1676.74 L658.92,1678.74 L660.46,1680.74 L661.99,1682.74 L663.52,1684.74 L665.04,1686.76 L666.53,1688.78 L668.01,1690.82 L669.45,1692.87 L670.86,1694.95 L672.23,1697.04 L673.56,1699.16 L674.84,1701.31 L676.05,1703.49 L677.21,1705.71 L678.32,1707.95 L679.36,1710.22 L680.36,1712.52 L681.30,1714.85 L682.20,1717.20 L683.05,1719.57 L683.86,1721.95 L684.63,1724.36 L685.36,1726.78 L686.05,1729.21 L686.72,1731.65 L687.36,1734.11 L687.98,1736.57 L688.57,1739.04 L689.15,1741.51 L689.72,1743.98 L690.29,1746.46 L690.85,1748.94 L691.41,1751.41 L691.97,1753.88 L692.55,1756.35 L693.12,1758.82 L693.71,1761.28 L694.30,1763.74 L694.89,1766.20 L695.50,1768.65 L696.11,1771.10 L696.72,1773.55 L697.34,1775.99 L697.97,1778.43 L698.61,1780.87 L699.25,1783.31 L699.90,1785.74 L700.56,1788.17 L701.22,1790.60 L701.89,1793.02 L702.57,1795.45 L703.26,1797.86 L703.95,1800.28 L704.65,1802.70 L705.36,1805.11 L706.08,1807.52 L706.81,1809.92 L707.54,1812.33 L708.28,1814.73 L709.03,1817.13 L709.79,1819.53 L710.56,1821.93 L711.34,1824.32 L712.12,1826.71 L712.91,1829.10 L713.71,1831.49 L714.51,1833.87 L715.33,1836.26 L716.14,1838.64 L716.97,1841.02 L717.80,1843.40 L718.63,1845.78 L719.47,1848.16 L720.32,1850.53 L721.17,1852.91 L722.02,1855.28 L722.88,1857.66 L723.73,1860.03 L724.60,1862.40 L725.46,1864.77 L726.33,1867.14 L727.20,1869.51 L728.07,1871.88 L728.94,1874.25 L729.81,1876.62 L730.68,1878.99 L731.56,1881.35 L732.43,1883.72 L733.30,1886.09 L734.17,1888.46 L735.04,1890.83 L735.91,1893.20 L736.78,1895.57 L737.64,1897.94 L738.50,1900.31 L739.36,1902.68 L740.22,1905.05 L741.07,1907.43 L741.92,1909.80 L742.76,1912.18 L743.60,1914.55 L744.44,1916.93 L745.27,1919.31 L746.09,1921.69 L746.91,1924.07 L747.72,1926.45 L748.53,1928.84 L749.33,1931.22 L750.12,1933.61 L750.90,1936.00"/>
<path stroke="#ff0000" d="M162.50,1936.00 L162.48,1933.47 L162.45,1930.95 L162.43,1928.42 L162.42,1925.90 L162.40,1923.37 L162.38,1920.85 L162.37,1918.32 L162.36,1915.80 L162.35,1913.28 L162.34,1910.75 L162.34,1908.23 L162.33,1905.71 L162.33,1903.18 L162.33,1900.66 L162.33,1898.14 L162.33,1895.61 L162.33,1893.09 L162.33,1890.57 L162.34,1888.05 L162.34,1885.52 L162.35,1883.00 L162.36,1880.48 L162.36,1877.96 L162.37,1875.44 L162.38,1872.91 L162.39,1870.39 L162.40,1867.87 L162.41,1865.35 L162.43,1862.83 L162.44,1860.31 L162.45,1857.78 L162.46,1855.26 L162.48,1852.74 L162.49,1850.22 L162.50,1847.70 L162.52,1845.18 L162.53,1842.66 L162.54,1840.13 L162.56,1837.61 L162.57,1835.09 L162.58,1832.57 L162.60,1830.05 L162.61,1827.53 L162.62,1825.01 L162.63,1822.48 L162.65,1819.96 L162.66,1817.44 L162.67,1814.92 L162.68,1812.40 L162.68,1809.88 L162.69,1807.35 L162.70,1804.83 L162.71,1802.31 L162.71,1799.79 L162.71,1797.27 L162.72,1794.74 L162.72,1792.22 L162.72,1789.70 L162.72,1787.18 L162.72,1784.65 L162.71,1782.13 L162.71,1779.61 L162.70,1777.08 L162.70,1774.56 L162.69,1772.03 L162.68,1769.51 L162.66,1766.99 L162.65,1764.46 L162.63,1761.94 L162.61,1759.41 L162.59,1756.89 L162.57,1754.36 L162.55,1751.84 L162.52,1749.31 L162.49,1746.79 L162.46,1744.26 L162.43,1741.73 L162.40,1739.21 L162.37,1736.68 L162.34,1734.15 L162.31,1731.63 L162.28,1729.10 L162.26,1726.57 L162.24,1724.05 L162.23,1721.52 L162.21,1719.00 L162.21,1716.47 L162.21,1713.95 L162.21,1711.42 L162.22,1708.90 L162.24,1706.37 L162.27,1703.85 L162.31,1701.33 L162.35,1698.80 L162.41,1696.28 L162.48,1693.76 L162.55,1691.24 L162.64,1688.72 L162.74,1686.20 L162.86,1683.68 L162.98,1681.17 L163.13,1678.65 L163.28,1676.13 L163.45,1673.62 L163.64,1671.11 L163.84,1668.59 L164.06,1666.08 L164.30,1663.57 L164.56,1661.06 L164.83,1658.56 L165.13,1656.05 L165.44,1653.55 L165.78,1651.05 L166.14,1648.55 L166.53,1646.06 L166.95,1643.57 L167.39,1641.09 L167.86,1638.62 L168.36,1636.15 L168.90,1633.69 L169.47,1631.24 L170.08,1628.80 L170.72,1626.37 L171.40,1623.95 L172.12,1621.55 L172.88,1619.15 L173.69,1616.77 L174.53,1614.40 L175.42,1612.05 L176.35,1609.71 L177.32,1607.38 L178.31,1605.06 L179.32,1602.74 L180.35,1600.43 L181.40,1598.13 L182.45,1595.83 L183.50,1593.53 L184.56,1591.23 L185.61,1588.92 L186.64,1586.62 L187.66,1584.30 L188.67,1581.99 L189.68,1579.67 L190.67,1577.35 L191.65,1575.03 L192.64,1572.71 L193.61,1570.38 L194.59,1568.06 L195.56,1565.73 L196.53,1563.41 L197.51,1561.08 L198.48,1558.76 L199.45,1556.43 L200.43,1554.11 L201.41,1551.79 L202.39,1549.47 L203.38,1547.16 L204.38,1544.84 L205.38,1542.53 L206.40,1540.22 L207.41,1537.91 L208.44,1535.61 L209.47,1533.31 L210.51,1531.01 L211.55,1528.72 L212.61,1526.42 L213.67,1524.13 L214.73,1521.85 L215.81,1519.56 L216.89,1517.28 L217.97,1515.00 L219.07,1512.73 L220.17,1510.46 L221.28,1508.19 L222.39,1505.92 L223.51,1503.66 L224.64,1501.40 L225.77,1499.14 L226.91,1496.89 L228.06,1494.64 L229.21,1492.39 L230.37,1490.15 L231.53,1487.91 L232.71,1485.67 L233.88,1483.44 L235.07,1481.21 L236.26,1478.98 L237.45,1476.76 L238.66,1474.54 L239.86,1472.32 L241.08,1470.11 L242.30,1467.90 L243.53,1465.69 L244.76,1463.49 L246.00,1461.29 L247.24,1459.10 L248.49,1456.91 L249.75,1454.72 L251.01,1452.53 L252.27,1450.35 L253.55,1448.18 L254.83,1446.01 L256.11,1443.84 L257.40,1441.67 L258.69,1439.51 L259.99,1437.35 L261.30,1435.20 L261.29,1437.67 L261.28,1440.15 L261.26,1442.64 L261.24,1445.15 L261.22,1447.66 L261.21,1450.19 L261.22,1452.72 L261.23,1455.25 L261.27,1457.79 L261.33,1460.33 L261.41,1462.87 L261.52,1465.41 L261.67,1467.94 L261.85,1470.47 L262.07,1472.99 L262.34,1475.50 L262.65,1478.01 L263.01,1480.50 L263.43,1482.98 L263.91,1485.44 L264.45,1487.88 L265.05,1490.31 L265.73,1492.72 L266.47,1495.10 L267.30,1497.46 L268.20,1499.80 L269.19,1502.11 L270.25,1504.40 L271.37,1506.66 L272.56,1508.90 L273.78,1511.12 L275.05,1513.33 L276.35,1515.52 L277.66,1517.70 L278.99,1519.87 L280.33,1522.02 L281.68,1524.16 L283.06,1526.27 L284.47,1528.37 L285.90,1530.44 L287.36,1532.48 L288.85,1534.50 L290.39,1536.48 L291.96,1538.42 L293.58,1540.33 L295.24,1542.20 L296.94,1544.03 L298.69,1545.83 L300.46,1547.61 L302.25,1549.37 L304.06,1551.12 L305.88,1552.86 L307.70,1554.59 L309.51,1556.34 L311.32,1558.09 L313.11,1559.86 L314.90,1561.63 L316.67,1563.42 L318.43,1565.22 L320.18,1567.03 L321.92,1568.84 L323.66,1570.67 L325.38,1572.51 L327.09,1574.35 L328.80,1576.21 L330.49,1578.07 L332.18,1579.94 L333.86,1581.81 L335.54,1583.70 L337.20,1585.59 L338.86,1587.48 L340.52,1589.39 L342.16,1591.29 L343.80,1593.21 L345.44,1595.12 L347.07,1597.05 L348.69,1598.97 L350.31,1600.90 L351.93,1602.84 L353.54,1604.78 L355.15,1606.72 L356.76,1608.66 L358.36,1610.60 L359.96,1612.55 L361.56,1614.50 L363.15,1616.45 L364.74,1618.40 L366.34,1620.35 L367.93,1622.30 L369.52,1624.25 L371.11,1626.20 L372.70,1628.15 L374.29,1630.09 L375.87,1632.04 L377.46,1633.99 L379.04,1635.94 L380.63,1637.89 L382.21,1639.85 L383.79,1641.80 L385.37,1643.76 L386.94,1645.71 L388.52,1647.68 L390.09,1649.64 L391.65,1651.61 L393.22,1653.58 L394.78,1655.55 L396.34,1657.53 L397.89,1659.51 L399.45,1661.50 L400.99,1663.50 L402.54,1665.49 L404.08,1667.49 L405.62,1669.50 L407.15,1671.50 L408.69,1673.51 L410.22,1675.53 L411.74,1677.54 L413.27,1679.56 L414.79,1681.57 L416.31,1683.59 L417.83,1685.61 L419.35,1687.62 L420.86,1689.65 L422.34,1691.69 L423.77,1693.75 L425.14,1695.84 L426.43,1697.98 L427.63,1700.16 L428.72,1702.40 L429.72,1704.69 L430.65,1707.01 L431.53,1709.36 L432.38,1711.72 L433.20,1714.09 L434.01,1716.47 L434.80,1718.85 L435.57,1721.24 L436.33,1723.63 L437.07,1726.03 L437.80,1728.43 L438.51,1730.84 L439.21,1733.26 L439.90,1735.68 L440.58,1738.10 L441.24,1740.52 L441.90,1742.95 L442.55,1745.39 L443.19,1747.82 L443.82,1750.26 L444.45,1752.70 L445.06,1755.15 L445.68,1757.59 L446.29,1760.04 L446.89,1762.49 L447.49,1764.94 L448.09,1767.39 L448.69,1769.84 L449.29,1772.29 L449.88,1774.74 L450.48,1777.20 L451.08,1779.65 L451.68,1782.10 L452.29,1784.55 L452.89,1787.00 L453.50,1789.44 L454.12,1791.89 L454.75,1794.33 L455.38,1796.77 L456.01,1799.21 L456.66,1801.65 L457.31,1804.08 L457.97,1806.51 L458.63,1808.94 L459.31,1811.37 L459.99,1813.80 L460.67,1816.22 L461.36,1818.64 L462.06,1821.06 L462.76,1823.48 L463.47,1825.89 L464.19,1828.30 L464.91,1830.72 L465.63,1833.13 L466.36,1835.53 L467.10,1837.94 L467.84,1840.35 L468.58,1842.75 L469.33,1845.15 L470.08,1847.55 L470.84,1849.95 L471.60,1852.35 L472.37,1854.75 L473.13,1857.14 L473.90,1859.54 L474.68,1861.93 L475.46,1864.33 L476.23,1866.72 L477.02,1869.11 L477.80,1871.50 L478.59,1873.89 L479.38,1876.28 L480.17,1878.67 L480.96,1881.06 L481.76,1883.45 L482.55,1885.84 L483.35,1888.22 L484.15,1890.61 L484.95,1893.00 L485.75,1895.39 L486.55,1897.77 L487.35,1900.16 L488.15,1902.55 L488.95,1904.93 L489.75,1907.32 L490.56,1909.71 L491.36,1912.10 L492.16,1914.48 L492.95,1916.87 L493.75,1919.26 L494.55,1921.65 L495.35,1924.04 L496.14,1926.43 L496.93,1928.82 L497.72,1931.21 L498.51,1933.61 L499.30,1936.00"/>
<path stroke="#0000ff" d="M216.50,1936.00 L216.51,1933.49 L216.53,1930.97 L216.54,1928.46 L216.55,1925.94 L216.56,1923.43 L216.57,1920.91 L216.58,1918.40 L216.59,1915.89 L216.60,1913.37 L216.61,1910.86 L216.61,1908.34 L216.62,1905.83 L216.62,1903.32 L216.63,1900.80 L216.63,1898.29 L216.64,1895.78 L216.64,1893.26 L216.65,1890.75 L216.65,1888.24 L216.65,1885.73 L216.65,1883.21 L216.65,1880.70 L216.66,1878.19 L216.66,1875.67 L216.66,1873.16 L216.66,1870.65 L216.66,1868.14 L216.66,1865.62 L216.65,1863.11 L216.65,1860.60 L216.65,1858.09 L216.65,1855.57 L216.65,1853.06 L216.64,1850.55 L216.64,1848.04 L216.64,1845.52 L216.64,1843.01 L216.63,1840.50 L216.63,1837.99 L216.63,1835.48 L216.62,1832.96 L216.62,1830.45 L216.62,1827.94 L216.61,1825.43 L216.61,1822.91 L216.60,1820.40 L216.60,1817.89 L216.59,1815.38 L216.59,1812.87 L216.59,1810.35 L216.58,1807.84 L216.58,1805.33 L216.57,1802.82 L216.57,1800.31 L216.57,1797.79 L216.56,1795.28 L216.56,1792.77 L216.56,1790.26 L216.55,1787.75 L216.55,1785.23 L216.55,1782.72 L216.54,1780.21 L216.54,1777.70 L216.54,1775.18 L216.54,1772.67 L216.53,1770.16 L216.53,1767.65 L216.53,1765.13 L216.53,1762.62 L216.53,1760.11 L216.53,1757.60 L216.53,1755.09 L216.53,1752.57 L216.53,1750.06 L216.53,1747.55 L216.53,1745.03 L216.54,1742.52 L216.54,1740.01 L216.54,1737.50 L216.54,1734.98 L216.55,1732.47 L216.55,1729.96 L216.56,1727.44 L216.56,1724.93 L216.57,1722.42 L216.58,1719.90 L216.58,1717.39 L216.59,1714.88 L216.60,1712.36 L216.61,1709.85 L216.62,1707.34 L216.63,1704.82 L216.64,1702.31 L216.65,1699.79 L216.66,1697.28 L216.68,1694.77 L216.69,1692.25 L216.71,1689.74 L216.72,1687.22 L216.74,1684.71 L216.75,1682.19 L216.77,1679.68 L216.79,1677.16 L216.81,1674.65 L216.83,1672.13 L216.85,1669.62 L216.87,1667.10 L216.90,1664.59 L216.92,1662.07 L216.95,1659.56 L216.97,1657.04 L217.00,1654.52 L217.03,1652.01 L217.05,1649.49 L217.08,1646.97 L217.12,1644.46 L217.15,1641.94 L217.18,1639.42 L217.22,1636.91 L217.25,1634.39 L217.29,1631.87 L217.33,1629.36 L217.37,1626.84 L217.42,1624.32 L217.46,1621.81 L217.51,1619.29 L217.56,1616.77 L217.62,1614.26 L217.68,1611.74 L217.74,1609.23 L217.80,1606.71 L217.87,1604.20 L217.94,1601.68 L218.01,1599.17 L218.09,1596.65 L218.18,1594.14 L218.26,1591.62 L218.36,1589.11 L218.45,1586.60 L218.55,1584.08 L218.66,1581.57 L218.77,1579.06 L218.88,1576.55 L219.01,1574.04 L219.13,1571.53 L219.27,1569.02 L219.40,1566.51 L219.55,1564.01 L219.70,1561.50 L219.85,1558.99 L220.02,1556.49 L220.19,1553.98 L220.36,1551.48 L220.55,1548.98 L220.74,1546.48 L220.93,1543.97 L221.14,1541.47 L221.35,1538.97 L221.57,1536.48 L221.80,1533.98 L222.03,1531.48 L222.28,1528.99 L222.53,1526.49 L222.79,1524.00 L223.06,1521.51 L223.34,1519.02 L223.62,1516.53 L223.92,1514.04 L224.22,1511.55 L224.54,1509.07 L224.86,1506.58 L225.19,1504.10 L225.54,1501.62 L225.89,1499.14 L226.26,1496.66 L226.63,1494.18 L227.01,1491.70 L227.41,1489.23 L227.81,1486.75 L228.23,1484.28 L228.66,1481.81 L229.10,1479.34 L229.55,1476.87 L230.01,1474.41 L230.48,1471.95 L230.97,1469.48 L231.47,1467.02 L231.98,1464.56 L232.50,1462.11 L233.03,1459.65 L233.58,1457.20 L234.14,1454.75 L234.71,1452.30 L235.30,1449.85 L235.90,1447.40 L236.51,1444.96 L237.14,1442.51 L237.78,1440.07 L238.43,1437.64 L239.10,1435.20 L239.08,1437.72 L239.06,1440.24 L239.05,1442.76 L239.03,1445.28 L239.02,1447.81 L239.02,1450.33 L239.01,1452.85 L239.01,1455.37 L239.02,1457.89 L239.02,1460.41 L239.03,1462.93 L239.04,1465.45 L239.05,1467.97 L239.06,1470.49 L239.08,1473.01 L239.10,1475.53 L239.13,1478.05 L239.15,1480.57 L239.18,1483.09 L239.21,1485.61 L239.25,1488.13 L239.28,1490.65 L239.32,1493.17 L239.36,1495.69 L239.41,1498.21 L239.45,1500.73 L239.50,1503.25 L239.56,1505.77 L239.61,1508.29 L239.67,1510.81 L239.73,1513.32 L239.79,1515.84 L239.85,1518.36 L239.92,1520.88 L239.99,1523.40 L240.06,1525.92 L240.13,1528.44 L240.21,1530.95 L240.29,1533.47 L240.37,1535.99 L240.45,1538.51 L240.54,1541.03 L240.62,1543.54 L240.72,1546.06 L240.81,1548.58 L240.90,1551.10 L241.00,1553.61 L241.10,1556.13 L241.20,1558.65 L241.30,1561.17 L241.41,1563.68 L241.52,1566.20 L241.63,1568.72 L241.74,1571.23 L241.86,1573.75 L241.97,1576.27 L242.09,1578.78 L242.21,1581.30 L242.34,1583.82 L242.46,1586.33 L242.59,1588.85 L242.72,1591.37 L242.85,1593.88 L242.99,1596.40 L243.12,1598.91 L243.26,1601.43 L243.40,1603.94 L243.54,1606.46 L243.69,1608.98 L243.83,1611.49 L243.98,1614.01 L244.13,1616.52 L244.28,1619.04 L244.43,1621.55 L244.59,1624.07 L244.75,1626.58 L244.91,1629.09 L245.07,1631.61 L245.23,1634.12 L245.39,1636.64 L245.56,1639.15 L245.73,1641.67 L245.90,1644.18 L246.07,1646.69 L246.25,1649.21 L246.42,1651.72 L246.60,1654.23 L246.78,1656.75 L246.96,1659.26 L247.14,1661.77 L247.33,1664.29 L247.51,1666.80 L247.70,1669.31 L247.89,1671.82 L248.08,1674.34 L248.27,1676.85 L248.47,1679.36 L248.66,1681.87 L248.86,1684.39 L249.06,1686.90 L249.26,1689.41 L249.46,1691.92 L249.66,1694.43 L249.87,1696.95 L250.07,1699.46 L250.27,1701.97 L250.48,1704.48 L250.68,1706.99 L250.88,1709.50 L251.09,1712.01 L251.29,1714.53 L251.50,1717.04 L251.70,1719.55 L251.90,1722.06 L252.10,1724.57 L252.30,1727.08 L252.50,1729.60 L252.70,1732.11 L252.89,1734.62 L253.09,1737.13 L253.28,1739.64 L253.47,1742.16 L253.66,1744.67 L253.85,1747.18 L254.03,1749.69 L254.21,1752.21 L254.39,1754.72 L254.57,1757.23 L254.74,1759.75 L254.91,1762.26 L255.08,1764.77 L255.24,1767.29 L255.40,1769.80 L255.56,1772.31 L255.72,1774.83 L255.87,1777.34 L256.02,1779.86 L256.16,1782.37 L256.30,1784.89 L256.44,1787.40 L256.58,1789.92 L256.71,1792.43 L256.84,1794.95 L256.97,1797.46 L257.10,1799.98 L257.22,1802.50 L257.34,1805.01 L257.45,1807.53 L257.57,1810.05 L257.68,1812.56 L257.78,1815.08 L257.89,1817.60 L257.99,1820.11 L258.09,1822.63 L258.19,1825.15 L258.28,1827.67 L258.37,1830.18 L258.46,1832.70 L258.55,1835.22 L258.63,1837.74 L258.71,1840.26 L258.79,1842.78 L258.86,1845.29 L258.94,1847.81 L259.01,1850.33 L259.07,1852.85 L259.14,1855.37 L259.20,1857.89 L259.26,1860.41 L259.32,1862.93 L259.38,1865.45 L259.44,1867.97 L259.49,1870.49 L259.55,1873.01 L259.60,1875.53 L259.65,1878.05 L259.70,1880.57 L259.75,1883.09 L259.80,1885.61 L259.84,1888.13 L259.89,1890.65 L259.94,1893.17 L259.98,1895.69 L260.03,1898.21 L260.07,1900.72 L260.11,1903.24 L260.16,1905.76 L260.20,1908.28 L260.24,1910.80 L260.29,1913.32 L260.33,1915.84 L260.37,1918.36 L260.42,1920.88 L260.46,1923.40 L260.51,1925.92 L260.56,1928.44 L260.60,1930.96 L260.65,1933.48 L260.70,1936.00"/>
<path stroke="#008080" stroke-width="4.5" d="M163.6,1602 L164.2,1520 L166.5,1437"/>
<path stroke="#008080" d="M175.50,1936.00 L175.51,1933.48 L175.52,1930.97 L175.53,1928.45 L175.54,1925.93 L175.55,1923.42 L175.56,1920.90 L175.57,1918.38 L175.58,1915.87 L175.59,1913.35 L175.60,1910.83 L175.60,1908.31 L175.61,1905.80 L175.62,1903.28 L175.63,1900.76 L175.63,1898.25 L175.64,1895.73 L175.65,1893.21 L175.66,1890.70 L175.66,1888.18 L175.67,1885.66 L175.68,1883.15 L175.68,1880.63 L175.69,1878.11 L175.69,1875.59 L175.70,1873.08 L175.71,1870.56 L175.71,1868.04 L175.72,1865.53 L175.72,1863.01 L175.73,1860.49 L175.73,1857.97 L175.74,1855.46 L175.74,1852.94 L175.75,1850.42 L175.76,1847.91 L175.76,1845.39 L175.77,1842.87 L175.77,1840.35 L175.78,1837.84 L175.78,1835.32 L175.79,1832.80 L175.79,1830.29 L175.80,1827.77 L175.80,1825.25 L175.81,1822.73 L175.82,1820.22 L175.82,1817.70 L175.83,1815.18 L175.83,1812.67 L175.84,1810.15 L175.85,1807.63 L175.85,1805.11 L175.86,1802.60 L175.87,1800.08 L175.87,1797.56 L175.88,1795.05 L175.89,1792.53 L175.89,1790.01 L175.90,1787.49 L175.91,1784.98 L175.92,1782.46 L175.92,1779.94 L175.93,1777.43 L175.94,1774.91 L175.95,1772.39 L175.96,1769.87 L175.97,1767.36 L175.98,1764.84 L175.99,1762.32 L176.00,1759.81 L176.01,1757.29 L176.02,1754.77 L176.03,1752.25 L176.04,1749.74 L176.05,1747.22 L176.06,1744.70 L176.08,1742.19 L176.09,1739.67 L176.10,1737.15 L176.11,1734.63 L176.13,1732.12 L176.14,1729.60 L176.16,1727.08 L176.17,1724.57 L176.19,1722.05 L176.20,1719.53 L176.22,1717.01 L176.23,1714.50 L176.25,1711.98 L176.27,1709.46 L176.29,1706.95 L176.31,1704.43 L176.32,1701.91 L176.34,1699.39 L176.36,1696.88 L176.38,1694.36 L176.40,1691.84 L176.42,1689.33 L176.45,1686.81 L176.47,1684.29 L176.49,1681.78 L176.51,1679.26 L176.54,1676.74 L176.56,1674.23 L176.59,1671.71 L176.61,1669.19 L176.64,1666.67 L176.67,1664.16 L176.69,1661.64 L176.72,1659.12 L176.75,1656.61 L176.78,1654.09 L176.81,1651.57 L176.84,1649.06 L176.87,1646.54 L176.90,1644.02 L176.94,1641.51 L176.97,1638.99 L177.00,1636.47 L177.04,1633.96 L177.07,1631.44 L177.11,1628.92 L177.15,1626.41 L177.18,1623.89 L177.22,1621.37 L177.26,1618.86 L177.30,1616.34 L177.34,1613.82 L177.38,1611.31 L177.42,1608.79 L177.47,1606.27 L177.51,1603.76 L177.56,1601.24 L177.60,1598.72 L177.65,1596.21 L177.69,1593.69 L177.74,1591.17 L177.79,1588.66 L177.84,1586.14 L177.89,1583.62 L177.94,1581.11 L177.99,1578.59 L178.05,1576.08 L178.10,1573.56 L178.15,1571.04 L178.21,1568.53 L178.27,1566.01 L178.32,1563.49 L178.38,1560.98 L178.44,1558.46 L178.50,1555.95 L178.56,1553.43 L178.63,1550.91 L178.69,1548.40 L178.75,1545.88 L178.82,1543.37 L178.89,1540.85 L178.95,1538.33 L179.02,1535.82 L179.09,1533.30 L179.16,1530.79 L179.23,1528.27 L179.31,1525.75 L179.38,1523.24 L179.46,1520.72 L179.53,1518.21 L179.61,1515.69 L179.69,1513.17 L179.77,1510.66 L179.85,1508.14 L179.93,1505.63 L180.01,1503.11 L180.09,1500.60 L180.18,1498.08 L180.26,1495.56 L180.35,1493.05 L180.44,1490.53 L180.53,1488.02 L180.62,1485.50 L180.71,1482.99 L180.81,1480.47 L180.90,1477.96 L181.00,1475.44 L181.09,1472.93 L181.19,1470.41 L181.29,1467.90 L181.39,1465.38 L181.49,1462.87 L181.60,1460.35 L181.70,1457.83 L181.81,1455.32 L181.91,1452.80 L182.02,1450.29 L182.13,1447.77 L182.24,1445.26 L182.35,1442.74 L182.47,1440.23 L182.58,1437.71 L182.70,1435.20 L182.70,1437.72 L182.71,1440.23 L182.71,1442.75 L182.72,1445.27 L182.73,1447.78 L182.73,1450.30 L182.74,1452.82 L182.75,1455.34 L182.76,1457.85 L182.77,1460.37 L182.78,1462.89 L182.79,1465.40 L182.80,1467.92 L182.81,1470.44 L182.82,1472.95 L182.83,1475.47 L182.85,1477.99 L182.86,1480.50 L182.88,1483.02 L182.89,1485.54 L182.90,1488.06 L182.92,1490.57 L182.94,1493.09 L182.95,1495.61 L182.97,1498.12 L182.99,1500.64 L183.01,1503.16 L183.02,1505.67 L183.04,1508.19 L183.06,1510.71 L183.08,1513.22 L183.10,1515.74 L183.12,1518.26 L183.14,1520.77 L183.17,1523.29 L183.19,1525.81 L183.21,1528.32 L183.23,1530.84 L183.26,1533.36 L183.28,1535.87 L183.31,1538.39 L183.33,1540.91 L183.36,1543.42 L183.38,1545.94 L183.41,1548.46 L183.43,1550.97 L183.46,1553.49 L183.49,1556.01 L183.52,1558.52 L183.54,1561.04 L183.57,1563.56 L183.60,1566.07 L183.63,1568.59 L183.66,1571.11 L183.69,1573.62 L183.72,1576.14 L183.75,1578.66 L183.78,1581.17 L183.81,1583.69 L183.84,1586.21 L183.88,1588.72 L183.91,1591.24 L183.94,1593.76 L183.98,1596.27 L184.01,1598.79 L184.04,1601.31 L184.08,1603.82 L184.11,1606.34 L184.15,1608.86 L184.18,1611.37 L184.22,1613.89 L184.25,1616.41 L184.29,1618.92 L184.32,1621.44 L184.36,1623.96 L184.40,1626.47 L184.43,1628.99 L184.47,1631.51 L184.51,1634.02 L184.55,1636.54 L184.59,1639.06 L184.62,1641.57 L184.66,1644.09 L184.70,1646.61 L184.74,1649.12 L184.78,1651.64 L184.82,1654.16 L184.86,1656.67 L184.90,1659.19 L184.94,1661.71 L184.98,1664.22 L185.02,1666.74 L185.06,1669.26 L185.11,1671.77 L185.15,1674.29 L185.19,1676.80 L185.23,1679.32 L185.27,1681.84 L185.32,1684.35 L185.36,1686.87 L185.40,1689.39 L185.44,1691.90 L185.49,1694.42 L185.53,1696.94 L185.57,1699.45 L185.62,1701.97 L185.66,1704.49 L185.71,1707.00 L185.75,1709.52 L185.79,1712.04 L185.84,1714.55 L185.88,1717.07 L185.93,1719.58 L185.97,1722.10 L186.02,1724.62 L186.06,1727.13 L186.11,1729.65 L186.16,1732.17 L186.20,1734.68 L186.25,1737.20 L186.29,1739.72 L186.34,1742.23 L186.38,1744.75 L186.43,1747.27 L186.48,1749.78 L186.52,1752.30 L186.57,1754.82 L186.62,1757.33 L186.66,1759.85 L186.71,1762.36 L186.76,1764.88 L186.80,1767.40 L186.85,1769.91 L186.90,1772.43 L186.94,1774.95 L186.99,1777.46 L187.04,1779.98 L187.09,1782.50 L187.13,1785.01 L187.18,1787.53 L187.23,1790.05 L187.28,1792.56 L187.32,1795.08 L187.37,1797.59 L187.42,1800.11 L187.46,1802.63 L187.51,1805.14 L187.56,1807.66 L187.61,1810.18 L187.65,1812.69 L187.70,1815.21 L187.75,1817.73 L187.80,1820.24 L187.84,1822.76 L187.89,1825.28 L187.94,1827.79 L187.99,1830.31 L188.03,1832.83 L188.08,1835.34 L188.13,1837.86 L188.18,1840.37 L188.22,1842.89 L188.27,1845.41 L188.32,1847.92 L188.36,1850.44 L188.41,1852.96 L188.46,1855.47 L188.50,1857.99 L188.55,1860.51 L188.60,1863.02 L188.64,1865.54 L188.69,1868.06 L188.74,1870.57 L188.78,1873.09 L188.83,1875.60 L188.88,1878.12 L188.92,1880.64 L188.97,1883.15 L189.01,1885.67 L189.06,1888.19 L189.11,1890.70 L189.15,1893.22 L189.20,1895.74 L189.24,1898.25 L189.29,1900.77 L189.33,1903.29 L189.38,1905.80 L189.42,1908.32 L189.46,1910.84 L189.51,1913.35 L189.55,1915.87 L189.60,1918.38 L189.64,1920.90 L189.68,1923.42 L189.73,1925.93 L189.77,1928.45 L189.81,1930.97 L189.86,1933.48 L189.90,1936.00"/>
<path stroke="#ff00ff" d="M166.50,1936.00 L166.50,1933.48 L166.49,1930.97 L166.49,1928.45 L166.48,1925.93 L166.48,1923.42 L166.47,1920.90 L166.47,1918.38 L166.47,1915.87 L166.46,1913.35 L166.46,1910.83 L166.46,1908.32 L166.45,1905.80 L166.45,1903.28 L166.45,1900.77 L166.45,1898.25 L166.45,1895.73 L166.44,1893.22 L166.44,1890.70 L166.44,1888.18 L166.44,1885.67 L166.44,1883.15 L166.44,1880.63 L166.44,1878.12 L166.44,1875.60 L166.44,1873.08 L166.43,1870.57 L166.43,1868.05 L166.44,1865.53 L166.44,1863.02 L166.44,1860.50 L166.44,1857.98 L166.44,1855.47 L166.44,1852.95 L166.44,1850.43 L166.44,1847.92 L166.44,1845.40 L166.44,1842.88 L166.45,1840.37 L166.45,1837.85 L166.45,1835.33 L166.45,1832.82 L166.46,1830.30 L166.46,1827.78 L166.46,1825.27 L166.47,1822.75 L166.47,1820.23 L166.47,1817.72 L166.48,1815.20 L166.48,1812.68 L166.49,1810.17 L166.49,1807.65 L166.49,1805.13 L166.50,1802.62 L166.50,1800.10 L166.51,1797.58 L166.52,1795.07 L166.52,1792.55 L166.53,1790.03 L166.53,1787.52 L166.54,1785.00 L166.55,1782.48 L166.55,1779.97 L166.56,1777.45 L166.57,1774.93 L166.57,1772.42 L166.58,1769.90 L166.59,1767.38 L166.60,1764.87 L166.60,1762.35 L166.61,1759.83 L166.62,1757.32 L166.63,1754.80 L166.64,1752.28 L166.65,1749.77 L166.66,1747.25 L166.67,1744.73 L166.68,1742.22 L166.69,1739.70 L166.70,1737.18 L166.71,1734.67 L166.72,1732.15 L166.73,1729.63 L166.74,1727.12 L166.75,1724.60 L166.76,1722.08 L166.77,1719.57 L166.78,1717.05 L166.80,1714.53 L166.81,1712.02 L166.82,1709.50 L166.83,1706.98 L166.85,1704.47 L166.86,1701.95 L166.87,1699.43 L166.88,1696.92 L166.90,1694.40 L166.91,1691.89 L166.93,1689.37 L166.94,1686.85 L166.95,1684.34 L166.97,1681.82 L166.98,1679.30 L167.00,1676.79 L167.01,1674.27 L167.03,1671.75 L167.05,1669.24 L167.06,1666.72 L167.08,1664.20 L167.09,1661.69 L167.11,1659.17 L167.13,1656.65 L167.14,1654.14 L167.16,1651.62 L167.18,1649.10 L167.20,1646.59 L167.22,1644.07 L167.23,1641.55 L167.25,1639.04 L167.27,1636.52 L167.29,1634.00 L167.31,1631.49 L167.33,1628.97 L167.35,1626.45 L167.37,1623.94 L167.39,1621.42 L167.41,1618.90 L167.43,1616.39 L167.45,1613.87 L167.47,1611.35 L167.49,1608.84 L167.51,1606.32 L167.53,1603.80 L167.55,1601.29 L167.57,1598.77 L167.60,1596.25 L167.62,1593.74 L167.64,1591.22 L167.66,1588.71 L167.69,1586.19 L167.71,1583.67 L167.73,1581.16 L167.76,1578.64 L167.78,1576.12 L167.81,1573.61 L167.83,1571.09 L167.86,1568.57 L167.88,1566.06 L167.91,1563.54 L167.93,1561.02 L167.96,1558.51 L167.98,1555.99 L168.01,1553.47 L168.03,1550.96 L168.06,1548.44 L168.09,1545.92 L168.11,1543.41 L168.14,1540.89 L168.17,1538.37 L168.20,1535.86 L168.22,1533.34 L168.25,1530.83 L168.28,1528.31 L168.31,1525.79 L168.34,1523.28 L168.37,1520.76 L168.40,1518.24 L168.43,1515.73 L168.46,1513.21 L168.49,1510.69 L168.52,1508.18 L168.55,1505.66 L168.58,1503.14 L168.61,1500.63 L168.64,1498.11 L168.67,1495.59 L168.70,1493.08 L168.74,1490.56 L168.77,1488.05 L168.80,1485.53 L168.83,1483.01 L168.87,1480.50 L168.90,1477.98 L168.93,1475.46 L168.97,1472.95 L169.00,1470.43 L169.03,1467.91 L169.07,1465.40 L169.10,1462.88 L169.14,1460.36 L169.17,1457.85 L169.21,1455.33 L169.24,1452.81 L169.28,1450.30 L169.32,1447.78 L169.35,1445.27 L169.39,1442.75 L169.43,1440.23 L169.46,1437.72 L169.50,1435.20 L169.50,1437.72 L169.50,1440.23 L169.50,1442.75 L169.50,1445.27 L169.50,1447.78 L169.50,1450.30 L169.50,1452.82 L169.50,1455.33 L169.50,1457.85 L169.50,1460.37 L169.50,1462.88 L169.50,1465.40 L169.50,1467.92 L169.50,1470.43 L169.50,1472.95 L169.50,1475.47 L169.51,1477.98 L169.51,1480.50 L169.51,1483.02 L169.51,1485.53 L169.51,1488.05 L169.51,1490.57 L169.52,1493.08 L169.52,1495.60 L169.52,1498.12 L169.52,1500.63 L169.53,1503.15 L169.53,1505.67 L169.53,1508.18 L169.54,1510.70 L169.54,1513.22 L169.54,1515.73 L169.55,1518.25 L169.55,1520.77 L169.56,1523.28 L169.56,1525.80 L169.56,1528.32 L169.57,1530.83 L169.57,1533.35 L169.58,1535.87 L169.58,1538.38 L169.59,1540.90 L169.59,1543.42 L169.60,1545.93 L169.60,1548.45 L169.61,1550.97 L169.61,1553.48 L169.62,1556.00 L169.63,1558.51 L169.63,1561.03 L169.64,1563.55 L169.65,1566.06 L169.65,1568.58 L169.66,1571.10 L169.67,1573.61 L169.67,1576.13 L169.68,1578.65 L169.69,1581.16 L169.69,1583.68 L169.70,1586.20 L169.71,1588.71 L169.72,1591.23 L169.72,1593.75 L169.73,1596.26 L169.74,1598.78 L169.75,1601.30 L169.76,1603.81 L169.77,1606.33 L169.77,1608.85 L169.78,1611.36 L169.79,1613.88 L169.80,1616.40 L169.81,1618.91 L169.82,1621.43 L169.83,1623.95 L169.84,1626.46 L169.85,1628.98 L169.86,1631.50 L169.87,1634.01 L169.88,1636.53 L169.89,1639.05 L169.90,1641.56 L169.91,1644.08 L169.92,1646.60 L169.93,1649.11 L169.94,1651.63 L169.95,1654.15 L169.97,1656.66 L169.98,1659.18 L169.99,1661.70 L170.00,1664.21 L170.01,1666.73 L170.02,1669.25 L170.04,1671.76 L170.05,1674.28 L170.06,1676.80 L170.07,1679.31 L170.09,1681.83 L170.10,1684.34 L170.11,1686.86 L170.12,1689.38 L170.14,1691.89 L170.15,1694.41 L170.16,1696.93 L170.18,1699.44 L170.19,1701.96 L170.20,1704.48 L170.22,1706.99 L170.23,1709.51 L170.25,1712.03 L170.26,1714.54 L170.27,1717.06 L170.29,1719.58 L170.30,1722.09 L170.32,1724.61 L170.33,1727.13 L170.35,1729.64 L170.36,1732.16 L170.38,1734.68 L170.39,1737.19 L170.41,1739.71 L170.43,1742.23 L170.44,1744.74 L170.46,1747.26 L170.47,1749.78 L170.49,1752.29 L170.51,1754.81 L170.52,1757.33 L170.54,1759.84 L170.56,1762.36 L170.57,1764.88 L170.59,1767.39 L170.61,1769.91 L170.62,1772.42 L170.64,1774.94 L170.66,1777.46 L170.68,1779.97 L170.69,1782.49 L170.71,1785.01 L170.73,1787.52 L170.75,1790.04 L170.76,1792.56 L170.78,1795.07 L170.80,1797.59 L170.82,1800.11 L170.84,1802.62 L170.86,1805.14 L170.88,1807.66 L170.90,1810.17 L170.91,1812.69 L170.93,1815.21 L170.95,1817.72 L170.97,1820.24 L170.99,1822.76 L171.01,1825.27 L171.03,1827.79 L171.05,1830.31 L171.07,1832.82 L171.09,1835.34 L171.11,1837.86 L171.13,1840.37 L171.15,1842.89 L171.17,1845.40 L171.20,1847.92 L171.22,1850.44 L171.24,1852.95 L171.26,1855.47 L171.28,1857.99 L171.30,1860.50 L171.32,1863.02 L171.34,1865.54 L171.37,1868.05 L171.39,1870.57 L171.41,1873.09 L171.43,1875.60 L171.46,1878.12 L171.48,1880.64 L171.50,1883.15 L171.52,1885.67 L171.55,1888.19 L171.57,1890.70 L171.59,1893.22 L171.61,1895.74 L171.64,1898.25 L171.66,1900.77 L171.68,1903.29 L171.71,1905.80 L171.73,1908.32 L171.76,1910.83 L171.78,1913.35 L171.80,1915.87 L171.83,1918.38 L171.85,1920.90 L171.88,1923.42 L171.90,1925.93 L171.93,1928.45 L171.95,1930.97 L171.98,1933.48 L172.00,1936.00"/>
</g>
<g stroke-width="7.5" stroke-linecap="round">
<line x1="699.9" x2="793.2" y1="1441.9" y2="1441.9" stroke="#000000"/>
<line x1="699.9" x2="793.2" y1="1509.6" y2="1509.6" stroke="#ff0000"/>
<line x1="699.9" x2="793.2" y1="1577.1" y2="1577.1" stroke="#0000ff"/>
<line x1="699.9" x2="793.2" y1="1644.2" y2="1644.2" stroke="#008080"/>
<line x1="699.9" x2="793.2" y1="1702.4" y2="1702.4" stroke="#ff00ff"/>
</g>
<g xml:space="preserve">
<text transform="translate(124.93,38.40) scale(1.1320,1)" text-anchor="end" font-size="42.00">1.2</text>
<text transform="translate(124.93,115.64) scale(1.1320,1)" text-anchor="end" font-size="42.00">1.0</text>
<text transform="translate(124.93,192.89) scale(1.1320,1)" text-anchor="end" font-size="42.00">0.8</text>
<text transform="translate(124.93,270.13) scale(1.1320,1)" text-anchor="end" font-size="42.00">0.6</text>
<text transform="translate(124.93,347.37) scale(1.1320,1)" text-anchor="end" font-size="42.00">0.4</text>
<text transform="translate(124.93,424.61) scale(1.1320,1)" text-anchor="end" font-size="42.00">0.2</text>
<text transform="translate(124.93,501.86) scale(1.1320,1)" text-anchor="end" font-size="42.00">0.0</text>
<text transform="translate(124.93,579.10) scale(1.1320,1)" text-anchor="end" font-size="42.00">-0.2</text>
<text transform="translate(144.80,617.30) scale(1.1460,1)" text-anchor="middle" font-size="42.50">0</text>
<text transform="translate(301.24,617.30) scale(1.1460,1)" text-anchor="middle" font-size="42.50">500</text>
<text transform="translate(457.68,617.30) scale(1.1460,1)" text-anchor="middle" font-size="42.50">1000</text>
<text transform="translate(614.13,617.30) scale(1.1460,1)" text-anchor="middle" font-size="42.50">1500</text>
<text transform="translate(770.57,617.30) scale(1.1460,1)" text-anchor="middle" font-size="42.50">2000</text>
<text transform="translate(927.01,617.30) scale(1.1460,1)" text-anchor="middle" font-size="42.50">2500</text>
<text transform="translate(448.76,673.30) scale(1.0291,1)" font-size="41.22">Time (sec)</text>
<text transform="translate(35.70,475.92) rotate(-90) scale(0.9305,1)" font-size="44.60">Potential</text>
<text transform="translate(35.70,307.93) rotate(-90) scale(0.9596,1)" font-size="44.60">(V</text>
<text transform="translate(35.70,251.20) rotate(-90) scale(0.9358,1)" font-size="44.60">vs.</text>
<text transform="translate(35.70,193.12) rotate(-90) scale(0.9512,1)" font-size="44.60">Ag/AgCl)</text>
<text transform="translate(315.01,83.10) scale(1.0465,1)" font-size="44.44">(a)</text>
<text transform="translate(817.08,71.90) scale(1.1332,1)" font-size="35.74">0.2 Ag</text>
<text transform="translate(925.02,52.00) scale(1.1593,1)" font-size="19.10">-1</text>
<text transform="translate(817.08,123.10) scale(1.1332,1)" font-size="35.74">0.5 Ag</text>
<text transform="translate(925.02,103.20) scale(1.1593,1)" font-size="19.10">-1</text>
<text transform="translate(816.65,174.30) scale(1.1378,1)" font-size="35.74">1.0 Ag</text>
<text transform="translate(925.02,154.40) scale(1.1593,1)" font-size="19.10">-1</text>
<text transform="translate(816.65,225.50) scale(1.1294,1)" font-size="36.00">1.5 Ag</text>
<text transform="translate(925.02,205.60) scale(1.1593,1)" font-size="19.10">-1</text>
<text transform="translate(817.08,276.70) scale(1.1332,1)" font-size="35.74">2.0 Ag</text>
<text transform="translate(925.02,256.80) scale(1.1593,1)" font-size="19.10">-1</text>
<text transform="translate(143.10,746.30) scale(1.2310,1)" text-anchor="end" font-size="38.00">1.2</text>
<text transform="translate(143.10,818.90) scale(1.2310,1)" text-anchor="end" font-size="38.00">1.0</text>
<text transform="translate(143.10,891.50) scale(1.2310,1)" text-anchor="end" font-size="38.00">0.8</text>
<text transform="translate(143.10,964.10) scale(1.2310,1)" text-anchor="end" font-size="38.00">0.6</text>
<text transform="translate(143.10,1036.70) scale(1.2310,1)" text-anchor="end" font-size="38.00">0.4</text>
<text transform="translate(143.10,1109.30) scale(1.2310,1)" text-anchor="end" font-size="38.00">0.2</text>
<text transform="translate(143.10,1181.90) scale(1.2310,1)" text-anchor="end" font-size="38.00">0.0</text>
<text transform="translate(143.10,1254.50) scale(1.2310,1)" text-anchor="end" font-size="38.00">-0.2</text>
<text transform="translate(163.10,1289.30) scale(1.1930,1)" text-anchor="middle" font-size="39.30">0</text>
<text transform="translate(252.68,1289.30) scale(1.1930,1)" text-anchor="middle" font-size="39.30">100</text>
<text transform="translate(342.26,1289.30) scale(1.1930,1)" text-anchor="middle" font-size="39.30">200</text>
<text transform="translate(431.83,1289.30) scale(1.1930,1)" text-anchor="middle" font-size="39.30">300</text>
<text transform="translate(521.41,1289.30) scale(1.1930,1)" text-anchor="middle" font-size="39.30">400</text>
<text transform="translate(610.99,1289.30) scale(1.1930,1)" text-anchor="middle" font-size="39.30">500</text>
<text transform="translate(700.57,1289.30) scale(1.1930,1)" text-anchor="middle" font-size="39.30">600</text>
<text transform="translate(790.14,1289.30) scale(1.1930,1)" text-anchor="middle" font-size="39.30">700</text>
<text transform="translate(879.72,1289.30) scale(1.1930,1)" text-anchor="middle" font-size="39.30">800</text>
<text transform="translate(969.30,1289.30) scale(1.1930,1)" text-anchor="middle" font-size="39.30">900</text>
<text transform="translate(464.00,1345.90) scale(1.0215,1)" font-size="38.93">Time (sec)</text>
<text transform="translate(45.20,1182.50) rotate(-90) scale(0.9776,1)" font-size="40.92">Potential (V vs. Ag/AgCl)</text>
<text transform="translate(193.96,792.20) scale(1.1159,1)" font-size="42.56">(b)</text>
<text transform="translate(852.06,793.10) scale(1.0469,1)" font-size="39.12">0%</text>
<text transform="translate(848.99,842.00) scale(1.0562,1)" font-size="39.12">10%</text>
<text transform="translate(850.07,890.30) scale(1.0341,1)" font-size="39.41">25%</text>
<text transform="translate(850.07,938.90) scale(1.0417,1)" font-size="39.12">50%</text>
<text transform="translate(141.89,1447.52) scale(1.1520,1)" text-anchor="end" font-size="40.30">1.0</text>
<text transform="translate(141.89,1530.55) scale(1.1520,1)" text-anchor="end" font-size="40.30">0.8</text>
<text transform="translate(141.89,1613.58) scale(1.1520,1)" text-anchor="end" font-size="40.30">0.6</text>
<text transform="translate(141.89,1696.61) scale(1.1520,1)" text-anchor="end" font-size="40.30">0.4</text>
<text transform="translate(141.89,1779.64) scale(1.1520,1)" text-anchor="end" font-size="40.30">0.2</text>
<text transform="translate(141.89,1862.67) scale(1.1520,1)" text-anchor="end" font-size="40.30">0.0</text>
<text transform="translate(141.89,1945.70) scale(1.1520,1)" text-anchor="end" font-size="40.30">-0.2</text>
<text transform="translate(161.20,1982.40) scale(1.1400,1)" text-anchor="middle" font-size="41.20">0</text>
<text transform="translate(283.06,1982.40) scale(1.1400,1)" text-anchor="middle" font-size="41.20">300</text>
<text transform="translate(404.92,1982.40) scale(1.1400,1)" text-anchor="middle" font-size="41.20">600</text>
<text transform="translate(526.78,1982.40) scale(1.1400,1)" text-anchor="middle" font-size="41.20">900</text>
<text transform="translate(648.64,1982.40) scale(1.1400,1)" text-anchor="middle" font-size="41.20">1200</text>
<text transform="translate(770.50,1982.40) scale(1.1400,1)" text-anchor="middle" font-size="41.20">1500</text>
<text transform="translate(892.36,1982.40) scale(1.1400,1)" text-anchor="middle" font-size="41.20">1800</text>
<text transform="translate(466.87,2048.30) scale(1.0263,1)" font-size="41.22">Time (sec)</text>
<text transform="translate(38.80,1869.34) rotate(-90) scale(0.9765,1)" font-size="43.51">Potential Vvs. Ag/AgCl</text>
<text transform="translate(291.85,1451.00) scale(1.0770,1)" font-size="44.33">(c)</text>
<text transform="translate(802.44,1453.70) scale(1.1265,1)" font-size="41.30">0.2</text>
<text transform="translate(872.14,1453.70) scale(1.1253,1)" font-size="41.30">Ag</text>
<text transform="translate(937.44,1431.60) scale(1.1465,1)" font-size="31.49">-1</text>
<text transform="translate(802.45,1521.00) scale(1.1169,1)" font-size="41.30">0.5</text>
<text transform="translate(872.14,1521.00) scale(1.1253,1)" font-size="41.30">Ag</text>
<text transform="translate(936.03,1499.70) scale(1.1674,1)" font-size="31.04">-1</text>
<text transform="translate(802.18,1588.10) scale(1.1271,1)" font-size="41.30">1.0</text>
<text transform="translate(872.14,1588.10) scale(1.1253,1)" font-size="41.30">Ag</text>
<text transform="translate(936.03,1566.80) scale(1.1674,1)" font-size="31.04">-1</text>
<text transform="translate(802.19,1655.60) scale(1.1221,1)" font-size="41.30">1.5</text>
<text transform="translate(872.14,1655.60) scale(1.1253,1)" font-size="41.30">Ag</text>
<text transform="translate(936.03,1634.00) scale(1.1674,1)" font-size="31.04">-1</text>
<text transform="translate(801.89,1713.80) scale(1.1568,1)" font-size="41.30">2.0</text>
<text transform="translate(883.76,1713.80) scale(1.0690,1)" font-size="41.30">Ag</text>
<text transform="translate(948.26,1693.10) scale(1.2467,1)" font-size="21.64">-1</text>
</g>
</svg>
</body></html>
